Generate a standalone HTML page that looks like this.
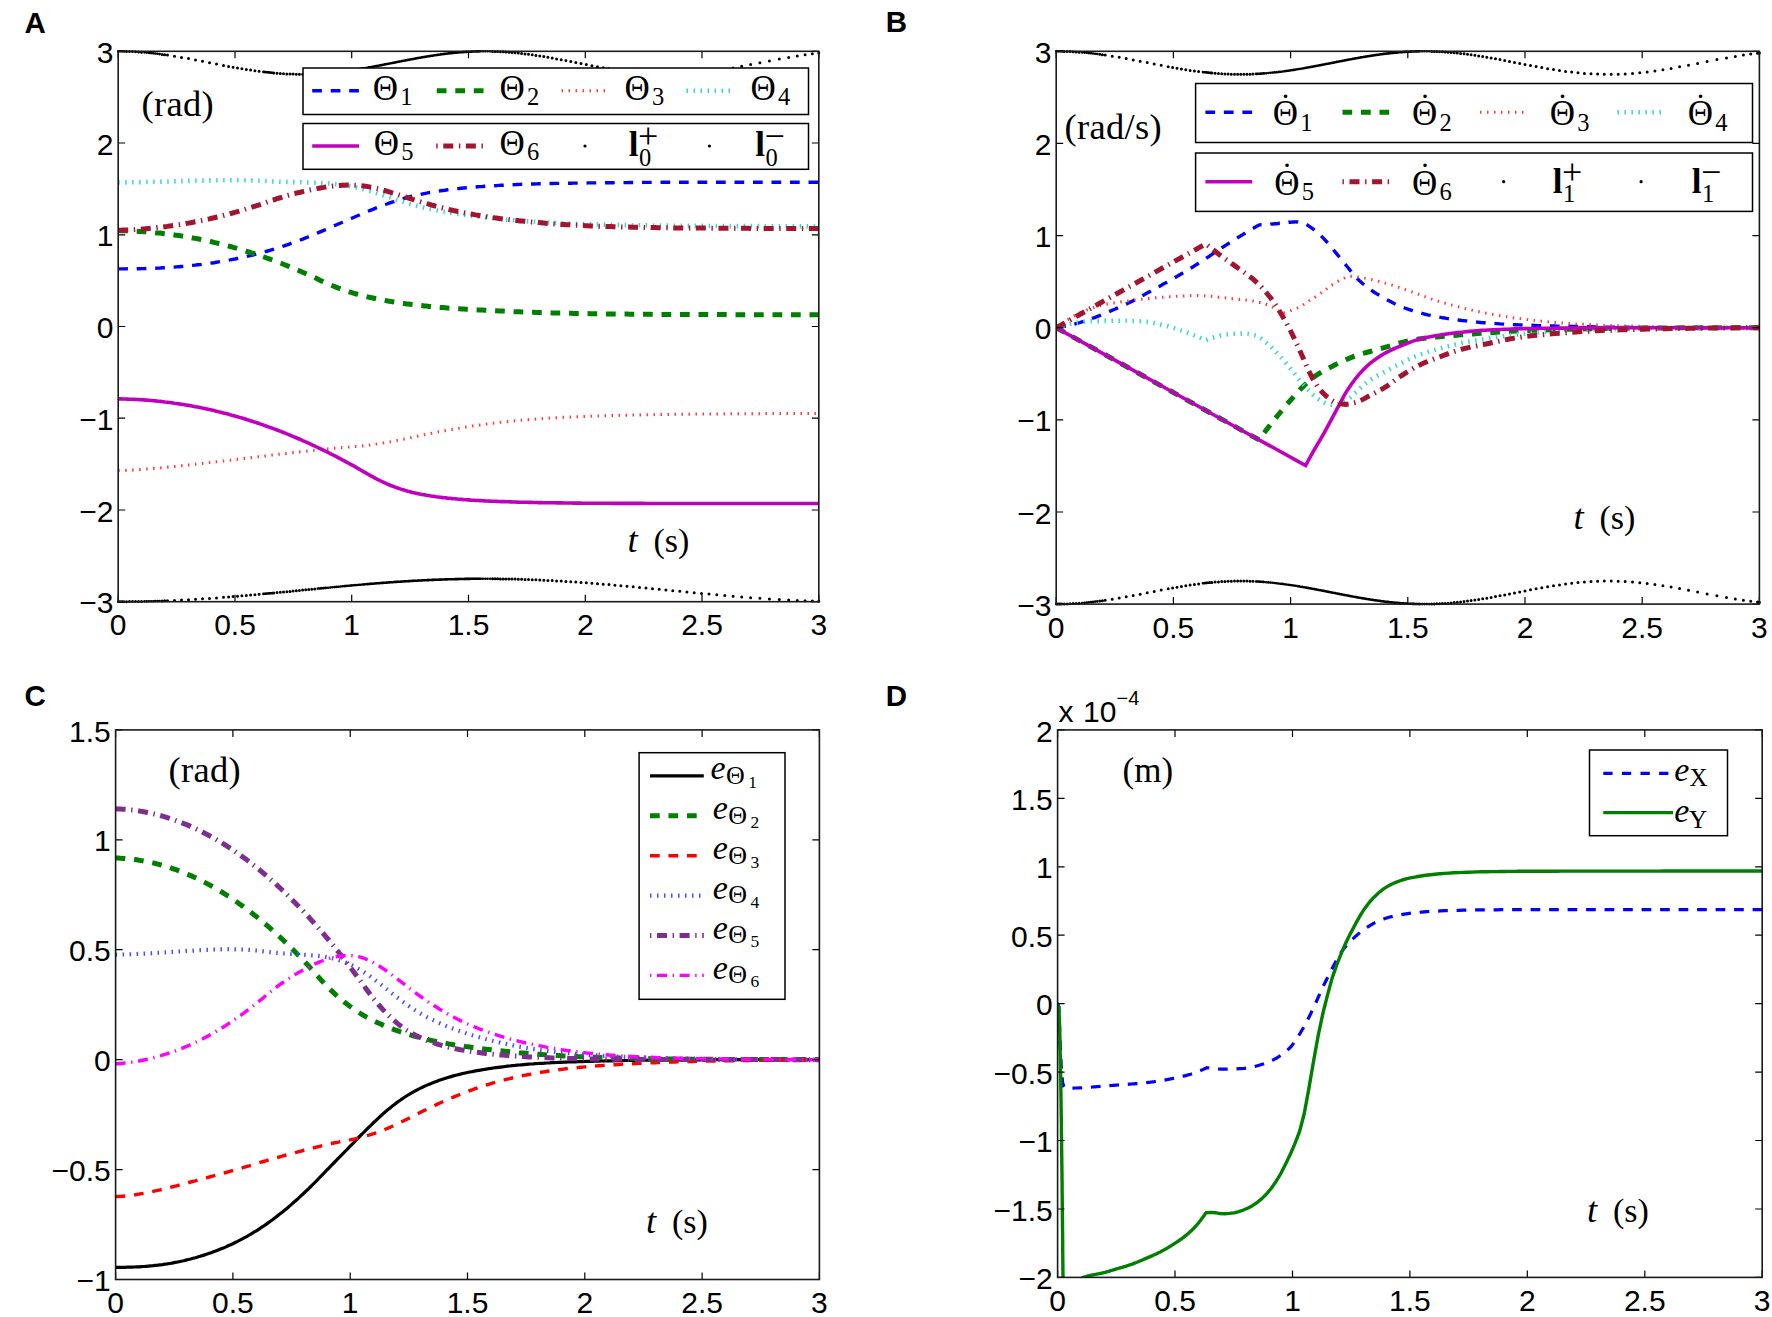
<!DOCTYPE html>
<html><head><meta charset="utf-8"><title>Figure</title>
<style>html,body{margin:0;padding:0;background:#fff}svg{display:block}</style></head>
<body>
<svg width="1772" height="1317" viewBox="0 0 1772 1317">
<rect width="1772" height="1317" fill="#fff"/>
<defs>
<clipPath id="clipA"><rect x="118.2" y="51.3" width="700.6" height="550.4"/></clipPath>
<clipPath id="clipB"><rect x="1056.2" y="51.3" width="703.2" height="552.8"/></clipPath>
<clipPath id="clipC"><rect x="115.6" y="729.9" width="703.8" height="549.6"/></clipPath>
<clipPath id="clipD"><rect x="1057.6" y="729.9" width="704.6" height="547.5"/></clipPath>
</defs>
<g clip-path="url(#clipA)">
<path d="M118.2,268.9 L120.5,268.9 L122.9,268.9 L125.2,268.9 L127.5,268.8 L129.9,268.8 L132.2,268.8 L134.5,268.8 L136.9,268.7 L139.2,268.7 L141.6,268.6 L143.9,268.6 L146.2,268.5 L148.6,268.4 L150.9,268.4 L153.2,268.3 L155.6,268.2 L157.9,268.1 L160.2,268.0 L162.6,267.8 L164.9,267.7 L167.2,267.6 L169.6,267.4 L171.9,267.3 L174.2,267.1 L176.6,266.9 L178.9,266.7 L181.3,266.5 L183.6,266.3 L185.9,266.1 L188.3,265.9 L190.6,265.6 L192.9,265.4 L195.3,265.1 L197.6,264.8 L199.9,264.6 L202.3,264.3 L204.6,264.0 L206.9,263.7 L209.3,263.3 L211.6,263.0 L213.9,262.7 L216.3,262.3 L218.6,261.9 L221.0,261.5 L223.3,261.1 L225.6,260.7 L228.0,260.3 L230.3,259.9 L232.6,259.4 L235.0,259.0 L237.3,258.5 L239.6,258.0 L242.0,257.5 L244.3,257.0 L246.6,256.5 L249.0,255.9 L251.3,255.4 L253.6,254.8 L256.0,254.2 L258.3,253.6 L260.7,253.0 L263.0,252.3 L265.3,251.7 L267.7,251.0 L270.0,250.3 L272.3,249.6 L274.7,248.9 L277.0,248.2 L279.3,247.4 L281.7,246.6 L284.0,245.9 L286.3,245.1 L288.7,244.3 L291.0,243.4 L293.3,242.6 L295.7,241.7 L298.0,240.9 L300.4,240.0 L302.7,239.1 L305.0,238.2 L307.4,237.2 L309.7,236.3 L312.0,235.3 L314.4,234.4 L316.7,233.4 L319.0,232.4 L321.4,231.4 L323.7,230.4 L326.0,229.4 L328.4,228.3 L330.7,227.3 L333.1,226.3 L335.4,225.3 L337.7,224.3 L340.1,223.3 L342.4,222.3 L344.7,221.3 L347.1,220.3 L349.4,219.3 L351.7,218.3 L354.1,217.3 L356.4,216.3 L358.7,215.3 L361.1,214.3 L363.4,213.3 L365.7,212.3 L368.1,211.3 L370.4,210.3 L372.8,209.4 L375.1,208.4 L377.4,207.5 L379.8,206.6 L382.1,205.7 L384.4,204.8 L386.8,204.0 L389.1,203.1 L391.4,202.3 L393.8,201.6 L396.1,200.8 L398.4,200.1 L400.8,199.3 L403.1,198.7 L405.4,198.0 L407.8,197.4 L410.1,196.7 L412.5,196.2 L414.8,195.6 L417.1,195.1 L419.5,194.6 L421.8,194.1 L424.1,193.6 L426.5,193.2 L428.8,192.7 L431.1,192.3 L433.5,191.9 L435.8,191.5 L438.1,191.2 L440.5,190.8 L442.8,190.5 L445.1,190.2 L447.5,189.8 L449.8,189.5 L452.2,189.3 L454.5,189.0 L456.8,188.7 L459.2,188.5 L461.5,188.2 L463.8,188.0 L466.2,187.8 L468.5,187.6 L470.8,187.4 L473.2,187.2 L475.5,187.0 L477.8,186.8 L480.2,186.6 L482.5,186.5 L484.8,186.3 L487.2,186.1 L489.5,186.0 L491.9,185.8 L494.2,185.7 L496.5,185.6 L498.9,185.4 L501.2,185.3 L503.5,185.2 L505.9,185.1 L508.2,184.9 L510.5,184.8 L512.9,184.7 L515.2,184.6 L517.5,184.5 L519.9,184.4 L522.2,184.3 L524.5,184.3 L526.9,184.2 L529.2,184.1 L531.6,184.0 L533.9,184.0 L536.2,183.9 L538.6,183.8 L540.9,183.8 L543.2,183.7 L545.6,183.6 L547.9,183.6 L550.2,183.5 L552.6,183.5 L554.9,183.4 L557.2,183.4 L559.6,183.4 L561.9,183.3 L564.2,183.3 L566.6,183.2 L568.9,183.2 L571.3,183.2 L573.6,183.1 L575.9,183.1 L578.3,183.1 L580.6,183.0 L582.9,183.0 L585.3,183.0 L587.6,182.9 L589.9,182.9 L592.3,182.9 L594.6,182.9 L596.9,182.8 L599.3,182.8 L601.6,182.8 L603.9,182.8 L606.3,182.7 L608.6,182.7 L611.0,182.7 L613.3,182.7 L615.6,182.6 L618.0,182.6 L620.3,182.6 L622.6,182.6 L625.0,182.6 L627.3,182.6 L629.6,182.5 L632.0,182.5 L634.3,182.5 L636.6,182.5 L639.0,182.5 L641.3,182.5 L643.6,182.4 L646.0,182.4 L648.3,182.4 L650.7,182.4 L653.0,182.4 L655.3,182.4 L657.7,182.4 L660.0,182.4 L662.3,182.3 L664.7,182.3 L667.0,182.3 L669.3,182.3 L671.7,182.3 L674.0,182.3 L676.3,182.3 L678.7,182.3 L681.0,182.3 L683.4,182.3 L685.7,182.3 L688.0,182.3 L690.4,182.3 L692.7,182.3 L695.0,182.3 L697.4,182.3 L699.7,182.3 L702.0,182.3 L704.4,182.2 L706.7,182.2 L709.0,182.2 L711.4,182.2 L713.7,182.2 L716.0,182.2 L718.4,182.2 L720.7,182.2 L723.1,182.2 L725.4,182.2 L727.7,182.2 L730.1,182.2 L732.4,182.2 L734.7,182.2 L737.1,182.2 L739.4,182.2 L741.7,182.2 L744.1,182.2 L746.4,182.2 L748.7,182.2 L751.1,182.2 L753.4,182.2 L755.7,182.2 L758.1,182.2 L760.4,182.2 L762.8,182.2 L765.1,182.2 L767.4,182.2 L769.8,182.2 L772.1,182.2 L774.4,182.2 L776.8,182.2 L779.1,182.2 L781.4,182.2 L783.8,182.2 L786.1,182.2 L788.4,182.2 L790.8,182.2 L793.1,182.2 L795.4,182.2 L797.8,182.2 L800.1,182.2 L802.5,182.2 L804.8,182.2 L807.1,182.2 L809.5,182.2 L811.8,182.2 L814.1,182.2 L816.5,182.2 L818.8,182.2" fill="none" stroke="#0000ff" stroke-width="3.4" stroke-dasharray="9.7 8.8"/>
<path d="M118.2,230.6 L120.5,230.7 L122.9,230.7 L125.2,230.8 L127.5,230.8 L129.9,230.9 L132.2,231.0 L134.5,231.1 L136.9,231.2 L139.2,231.4 L141.6,231.5 L143.9,231.7 L146.2,231.8 L148.6,232.0 L150.9,232.2 L153.2,232.4 L155.6,232.7 L157.9,232.9 L160.2,233.1 L162.6,233.4 L164.9,233.7 L167.2,234.0 L169.6,234.3 L171.9,234.6 L174.2,234.9 L176.6,235.2 L178.9,235.6 L181.3,235.9 L183.6,236.3 L185.9,236.7 L188.3,237.1 L190.6,237.5 L192.9,238.0 L195.3,238.4 L197.6,238.8 L199.9,239.3 L202.3,239.8 L204.6,240.3 L206.9,240.8 L209.3,241.3 L211.6,241.8 L213.9,242.4 L216.3,242.9 L218.6,243.5 L221.0,244.1 L223.3,244.7 L225.6,245.3 L228.0,245.9 L230.3,246.5 L232.6,247.2 L235.0,247.8 L237.3,248.5 L239.6,249.2 L242.0,249.9 L244.3,250.6 L246.6,251.3 L249.0,252.0 L251.3,252.8 L253.6,253.5 L256.0,254.3 L258.3,255.1 L260.7,255.9 L263.0,256.7 L265.3,257.5 L267.7,258.3 L270.0,259.2 L272.3,260.0 L274.7,260.9 L277.0,261.8 L279.3,262.6 L281.7,263.5 L284.0,264.5 L286.3,265.4 L288.7,266.3 L291.0,267.3 L293.3,268.3 L295.7,269.2 L298.0,270.2 L300.4,271.2 L302.7,272.3 L305.0,273.3 L307.4,274.3 L309.7,275.4 L312.0,276.5 L314.4,277.5 L316.7,278.6 L319.0,279.7 L321.4,280.9 L323.7,281.9 L326.0,283.0 L328.4,284.0 L330.7,285.0 L333.1,286.0 L335.4,286.9 L337.7,287.8 L340.1,288.7 L342.4,289.5 L344.7,290.3 L347.1,291.1 L349.4,291.9 L351.7,292.6 L354.1,293.3 L356.4,294.0 L358.7,294.6 L361.1,295.3 L363.4,295.9 L365.7,296.4 L368.1,297.0 L370.4,297.5 L372.8,298.0 L375.1,298.5 L377.4,299.0 L379.8,299.5 L382.1,299.9 L384.4,300.3 L386.8,300.8 L389.1,301.2 L391.4,301.6 L393.8,301.9 L396.1,302.3 L398.4,302.7 L400.8,303.0 L403.1,303.3 L405.4,303.7 L407.8,304.0 L410.1,304.3 L412.5,304.6 L414.8,304.8 L417.1,305.1 L419.5,305.4 L421.8,305.6 L424.1,305.9 L426.5,306.1 L428.8,306.4 L431.1,306.6 L433.5,306.8 L435.8,307.0 L438.1,307.2 L440.5,307.4 L442.8,307.6 L445.1,307.8 L447.5,308.0 L449.8,308.2 L452.2,308.3 L454.5,308.5 L456.8,308.7 L459.2,308.8 L461.5,309.0 L463.8,309.1 L466.2,309.3 L468.5,309.4 L470.8,309.5 L473.2,309.6 L475.5,309.8 L477.8,309.9 L480.2,310.0 L482.5,310.1 L484.8,310.3 L487.2,310.4 L489.5,310.5 L491.9,310.6 L494.2,310.7 L496.5,310.8 L498.9,310.9 L501.2,311.0 L503.5,311.1 L505.9,311.3 L508.2,311.4 L510.5,311.5 L512.9,311.6 L515.2,311.7 L517.5,311.7 L519.9,311.8 L522.2,311.9 L524.5,312.0 L526.9,312.1 L529.2,312.2 L531.6,312.3 L533.9,312.3 L536.2,312.4 L538.6,312.5 L540.9,312.6 L543.2,312.6 L545.6,312.7 L547.9,312.8 L550.2,312.8 L552.6,312.9 L554.9,312.9 L557.2,313.0 L559.6,313.1 L561.9,313.1 L564.2,313.2 L566.6,313.2 L568.9,313.3 L571.3,313.3 L573.6,313.4 L575.9,313.4 L578.3,313.5 L580.6,313.5 L582.9,313.5 L585.3,313.6 L587.6,313.6 L589.9,313.7 L592.3,313.7 L594.6,313.7 L596.9,313.8 L599.3,313.8 L601.6,313.8 L603.9,313.9 L606.3,313.9 L608.6,313.9 L611.0,314.0 L613.3,314.0 L615.6,314.0 L618.0,314.0 L620.3,314.1 L622.6,314.1 L625.0,314.1 L627.3,314.1 L629.6,314.2 L632.0,314.2 L634.3,314.2 L636.6,314.2 L639.0,314.3 L641.3,314.3 L643.6,314.3 L646.0,314.3 L648.3,314.3 L650.7,314.3 L653.0,314.4 L655.3,314.4 L657.7,314.4 L660.0,314.4 L662.3,314.4 L664.7,314.4 L667.0,314.4 L669.3,314.5 L671.7,314.5 L674.0,314.5 L676.3,314.5 L678.7,314.5 L681.0,314.5 L683.4,314.5 L685.7,314.5 L688.0,314.5 L690.4,314.6 L692.7,314.6 L695.0,314.6 L697.4,314.6 L699.7,314.6 L702.0,314.6 L704.4,314.6 L706.7,314.6 L709.0,314.6 L711.4,314.6 L713.7,314.6 L716.0,314.6 L718.4,314.6 L720.7,314.6 L723.1,314.6 L725.4,314.6 L727.7,314.7 L730.1,314.7 L732.4,314.7 L734.7,314.7 L737.1,314.7 L739.4,314.7 L741.7,314.7 L744.1,314.7 L746.4,314.7 L748.7,314.7 L751.1,314.7 L753.4,314.7 L755.7,314.7 L758.1,314.7 L760.4,314.7 L762.8,314.7 L765.1,314.7 L767.4,314.7 L769.8,314.7 L772.1,314.7 L774.4,314.7 L776.8,314.7 L779.1,314.7 L781.4,314.7 L783.8,314.7 L786.1,314.7 L788.4,314.7 L790.8,314.7 L793.1,314.7 L795.4,314.7 L797.8,314.7 L800.1,314.7 L802.5,314.7 L804.8,314.7 L807.1,314.7 L809.5,314.7 L811.8,314.7 L814.1,314.8 L816.5,314.8 L818.8,314.8" fill="none" stroke="#007f00" stroke-width="5" stroke-dasharray="9.7 8.8"/>
<path d="M118.2,470.5 L120.5,470.5 L122.9,470.4 L125.2,470.4 L127.5,470.3 L129.9,470.2 L132.2,470.1 L134.5,469.9 L136.9,469.8 L139.2,469.6 L141.6,469.5 L143.9,469.3 L146.2,469.1 L148.6,469.0 L150.9,468.8 L153.2,468.6 L155.6,468.4 L157.9,468.1 L160.2,467.9 L162.6,467.7 L164.9,467.5 L167.2,467.2 L169.6,467.0 L171.9,466.8 L174.2,466.5 L176.6,466.3 L178.9,466.0 L181.3,465.7 L183.6,465.5 L185.9,465.2 L188.3,465.0 L190.6,464.7 L192.9,464.4 L195.3,464.2 L197.6,463.9 L199.9,463.6 L202.3,463.4 L204.6,463.1 L206.9,462.8 L209.3,462.6 L211.6,462.3 L213.9,462.0 L216.3,461.8 L218.6,461.5 L221.0,461.2 L223.3,461.0 L225.6,460.7 L228.0,460.4 L230.3,460.2 L232.6,459.9 L235.0,459.6 L237.3,459.3 L239.6,459.1 L242.0,458.8 L244.3,458.5 L246.6,458.2 L249.0,457.9 L251.3,457.6 L253.6,457.4 L256.0,457.1 L258.3,456.8 L260.7,456.5 L263.0,456.2 L265.3,455.9 L267.7,455.6 L270.0,455.3 L272.3,455.0 L274.7,454.7 L277.0,454.5 L279.3,454.2 L281.7,453.9 L284.0,453.6 L286.3,453.4 L288.7,453.1 L291.0,452.8 L293.3,452.6 L295.7,452.3 L298.0,452.1 L300.4,451.8 L302.7,451.5 L305.0,451.3 L307.4,451.0 L309.7,450.8 L312.0,450.5 L314.4,450.3 L316.7,450.0 L319.0,449.8 L321.4,449.5 L323.7,449.3 L326.0,449.0 L328.4,448.8 L330.7,448.6 L333.1,448.4 L335.4,448.1 L337.7,447.9 L340.1,447.8 L342.4,447.6 L344.7,447.4 L347.1,447.2 L349.4,447.0 L351.7,446.9 L354.1,446.6 L356.4,446.4 L358.7,446.2 L361.1,446.0 L363.4,445.7 L365.7,445.4 L368.1,445.2 L370.4,444.9 L372.8,444.6 L375.1,444.2 L377.4,443.9 L379.8,443.5 L382.1,443.2 L384.4,442.8 L386.8,442.4 L389.1,442.0 L391.4,441.6 L393.8,441.1 L396.1,440.7 L398.4,440.2 L400.8,439.8 L403.1,439.3 L405.4,438.8 L407.8,438.3 L410.1,437.8 L412.5,437.3 L414.8,436.8 L417.1,436.3 L419.5,435.8 L421.8,435.3 L424.1,434.8 L426.5,434.4 L428.8,433.9 L431.1,433.4 L433.5,432.9 L435.8,432.5 L438.1,432.0 L440.5,431.6 L442.8,431.1 L445.1,430.7 L447.5,430.3 L449.8,429.8 L452.2,429.4 L454.5,429.0 L456.8,428.6 L459.2,428.2 L461.5,427.8 L463.8,427.4 L466.2,427.0 L468.5,426.7 L470.8,426.3 L473.2,425.9 L475.5,425.6 L477.8,425.2 L480.2,424.9 L482.5,424.6 L484.8,424.3 L487.2,423.9 L489.5,423.6 L491.9,423.4 L494.2,423.1 L496.5,422.8 L498.9,422.5 L501.2,422.2 L503.5,422.0 L505.9,421.7 L508.2,421.5 L510.5,421.3 L512.9,421.0 L515.2,420.8 L517.5,420.6 L519.9,420.4 L522.2,420.2 L524.5,420.0 L526.9,419.8 L529.2,419.6 L531.6,419.4 L533.9,419.2 L536.2,419.0 L538.6,418.9 L540.9,418.7 L543.2,418.5 L545.6,418.4 L547.9,418.2 L550.2,418.1 L552.6,418.0 L554.9,417.8 L557.2,417.7 L559.6,417.6 L561.9,417.4 L564.2,417.3 L566.6,417.2 L568.9,417.1 L571.3,417.0 L573.6,416.9 L575.9,416.8 L578.3,416.7 L580.6,416.6 L582.9,416.5 L585.3,416.4 L587.6,416.3 L589.9,416.2 L592.3,416.1 L594.6,416.1 L596.9,416.0 L599.3,415.9 L601.6,415.8 L603.9,415.8 L606.3,415.7 L608.6,415.6 L611.0,415.6 L613.3,415.5 L615.6,415.5 L618.0,415.4 L620.3,415.3 L622.6,415.3 L625.0,415.2 L627.3,415.2 L629.6,415.1 L632.0,415.1 L634.3,415.0 L636.6,415.0 L639.0,414.9 L641.3,414.9 L643.6,414.8 L646.0,414.8 L648.3,414.7 L650.7,414.7 L653.0,414.7 L655.3,414.6 L657.7,414.6 L660.0,414.5 L662.3,414.5 L664.7,414.5 L667.0,414.4 L669.3,414.4 L671.7,414.4 L674.0,414.3 L676.3,414.3 L678.7,414.3 L681.0,414.3 L683.4,414.2 L685.7,414.2 L688.0,414.2 L690.4,414.2 L692.7,414.1 L695.0,414.1 L697.4,414.1 L699.7,414.1 L702.0,414.0 L704.4,414.0 L706.7,414.0 L709.0,414.0 L711.4,414.0 L713.7,413.9 L716.0,413.9 L718.4,413.9 L720.7,413.9 L723.1,413.9 L725.4,413.8 L727.7,413.8 L730.1,413.8 L732.4,413.8 L734.7,413.8 L737.1,413.8 L739.4,413.8 L741.7,413.7 L744.1,413.7 L746.4,413.7 L748.7,413.7 L751.1,413.7 L753.4,413.7 L755.7,413.7 L758.1,413.7 L760.4,413.7 L762.8,413.7 L765.1,413.6 L767.4,413.6 L769.8,413.6 L772.1,413.6 L774.4,413.6 L776.8,413.6 L779.1,413.6 L781.4,413.6 L783.8,413.6 L786.1,413.6 L788.4,413.6 L790.8,413.6 L793.1,413.6 L795.4,413.5 L797.8,413.5 L800.1,413.5 L802.5,413.5 L804.8,413.5 L807.1,413.5 L809.5,413.5 L811.8,413.5 L814.1,413.5 L816.5,413.5 L818.8,413.5" fill="none" stroke="#ff3b3b" stroke-width="3" stroke-dasharray="1.5 5.5"/>
<path d="M118.2,182.4 L120.5,182.4 L122.9,182.4 L125.2,182.4 L127.5,182.3 L129.9,182.3 L132.2,182.3 L134.5,182.2 L136.9,182.2 L139.2,182.2 L141.6,182.1 L143.9,182.1 L146.2,182.0 L148.6,182.0 L150.9,181.9 L153.2,181.8 L155.6,181.8 L157.9,181.7 L160.2,181.7 L162.6,181.6 L164.9,181.5 L167.2,181.5 L169.6,181.4 L171.9,181.3 L174.2,181.3 L176.6,181.2 L178.9,181.2 L181.3,181.1 L183.6,181.0 L185.9,181.0 L188.3,180.9 L190.6,180.8 L192.9,180.8 L195.3,180.7 L197.6,180.7 L199.9,180.6 L202.3,180.6 L204.6,180.5 L206.9,180.4 L209.3,180.4 L211.6,180.4 L213.9,180.3 L216.3,180.3 L218.6,180.2 L221.0,180.2 L223.3,180.2 L225.6,180.2 L228.0,180.2 L230.3,180.2 L232.6,180.2 L235.0,180.2 L237.3,180.2 L239.6,180.2 L242.0,180.2 L244.3,180.3 L246.6,180.3 L249.0,180.4 L251.3,180.4 L253.6,180.5 L256.0,180.6 L258.3,180.7 L260.7,180.8 L263.0,180.9 L265.3,181.0 L267.7,181.1 L270.0,181.3 L272.3,181.4 L274.7,181.5 L277.0,181.6 L279.3,181.7 L281.7,181.8 L284.0,181.8 L286.3,181.9 L288.7,182.0 L291.0,182.1 L293.3,182.1 L295.7,182.2 L298.0,182.3 L300.4,182.3 L302.7,182.4 L305.0,182.5 L307.4,182.5 L309.7,182.6 L312.0,182.7 L314.4,182.7 L316.7,182.8 L319.0,182.9 L321.4,183.0 L323.7,183.1 L326.0,183.3 L328.4,183.4 L330.7,183.6 L333.1,183.8 L335.4,184.1 L337.7,184.3 L340.1,184.6 L342.4,184.9 L344.7,185.3 L347.1,185.7 L349.4,186.1 L351.7,186.5 L354.1,187.0 L356.4,187.5 L358.7,188.0 L361.1,188.6 L363.4,189.2 L365.7,189.8 L368.1,190.5 L370.4,191.1 L372.8,191.8 L375.1,192.5 L377.4,193.3 L379.8,194.0 L382.1,194.8 L384.4,195.6 L386.8,196.3 L389.1,197.1 L391.4,197.9 L393.8,198.7 L396.1,199.5 L398.4,200.2 L400.8,201.0 L403.1,201.7 L405.4,202.5 L407.8,203.2 L410.1,203.9 L412.5,204.6 L414.8,205.2 L417.1,205.8 L419.5,206.4 L421.8,207.0 L424.1,207.6 L426.5,208.1 L428.8,208.6 L431.1,209.1 L433.5,209.6 L435.8,210.0 L438.1,210.5 L440.5,210.9 L442.8,211.4 L445.1,211.8 L447.5,212.2 L449.8,212.6 L452.2,213.0 L454.5,213.3 L456.8,213.7 L459.2,214.0 L461.5,214.4 L463.8,214.7 L466.2,215.1 L468.5,215.4 L470.8,215.7 L473.2,216.0 L475.5,216.3 L477.8,216.6 L480.2,216.9 L482.5,217.2 L484.8,217.4 L487.2,217.7 L489.5,217.9 L491.9,218.2 L494.2,218.4 L496.5,218.7 L498.9,218.9 L501.2,219.1 L503.5,219.4 L505.9,219.6 L508.2,219.8 L510.5,220.0 L512.9,220.2 L515.2,220.4 L517.5,220.6 L519.9,220.8 L522.2,220.9 L524.5,221.1 L526.9,221.3 L529.2,221.4 L531.6,221.6 L533.9,221.7 L536.2,221.9 L538.6,222.0 L540.9,222.2 L543.2,222.3 L545.6,222.4 L547.9,222.6 L550.2,222.7 L552.6,222.8 L554.9,222.9 L557.2,223.0 L559.6,223.1 L561.9,223.2 L564.2,223.3 L566.6,223.4 L568.9,223.5 L571.3,223.6 L573.6,223.7 L575.9,223.8 L578.3,223.9 L580.6,224.0 L582.9,224.0 L585.3,224.1 L587.6,224.2 L589.9,224.2 L592.3,224.3 L594.6,224.4 L596.9,224.4 L599.3,224.5 L601.6,224.6 L603.9,224.6 L606.3,224.7 L608.6,224.7 L611.0,224.8 L613.3,224.8 L615.6,224.9 L618.0,224.9 L620.3,225.0 L622.6,225.0 L625.0,225.1 L627.3,225.1 L629.6,225.1 L632.0,225.2 L634.3,225.2 L636.6,225.3 L639.0,225.3 L641.3,225.3 L643.6,225.4 L646.0,225.4 L648.3,225.4 L650.7,225.5 L653.0,225.5 L655.3,225.5 L657.7,225.5 L660.0,225.6 L662.3,225.6 L664.7,225.6 L667.0,225.6 L669.3,225.7 L671.7,225.7 L674.0,225.7 L676.3,225.7 L678.7,225.8 L681.0,225.8 L683.4,225.8 L685.7,225.8 L688.0,225.8 L690.4,225.8 L692.7,225.9 L695.0,225.9 L697.4,225.9 L699.7,225.9 L702.0,225.9 L704.4,225.9 L706.7,226.0 L709.0,226.0 L711.4,226.0 L713.7,226.0 L716.0,226.0 L718.4,226.0 L720.7,226.0 L723.1,226.0 L725.4,226.0 L727.7,226.1 L730.1,226.1 L732.4,226.1 L734.7,226.1 L737.1,226.1 L739.4,226.1 L741.7,226.1 L744.1,226.1 L746.4,226.1 L748.7,226.1 L751.1,226.1 L753.4,226.1 L755.7,226.1 L758.1,226.1 L760.4,226.2 L762.8,226.2 L765.1,226.2 L767.4,226.2 L769.8,226.2 L772.1,226.2 L774.4,226.2 L776.8,226.2 L779.1,226.2 L781.4,226.2 L783.8,226.2 L786.1,226.2 L788.4,226.2 L790.8,226.2 L793.1,226.2 L795.4,226.2 L797.8,226.2 L800.1,226.2 L802.5,226.2 L804.8,226.2 L807.1,226.2 L809.5,226.2 L811.8,226.2 L814.1,226.2 L816.5,226.2 L818.8,226.2" fill="none" stroke="#3ad6c8" stroke-width="4.6" stroke-dasharray="1.5 5.5"/>
<path d="M118.2,398.9 L120.5,398.9 L122.9,399.0 L125.2,399.0 L127.5,399.1 L129.9,399.2 L132.2,399.3 L134.5,399.4 L136.9,399.5 L139.2,399.6 L141.6,399.8 L143.9,399.9 L146.2,400.1 L148.6,400.3 L150.9,400.5 L153.2,400.7 L155.6,400.9 L157.9,401.2 L160.2,401.4 L162.6,401.7 L164.9,402.0 L167.2,402.2 L169.6,402.5 L171.9,402.8 L174.2,403.2 L176.6,403.5 L178.9,403.9 L181.3,404.2 L183.6,404.6 L185.9,405.0 L188.3,405.4 L190.6,405.8 L192.9,406.2 L195.3,406.7 L197.6,407.1 L199.9,407.6 L202.3,408.1 L204.6,408.5 L206.9,409.0 L209.3,409.6 L211.6,410.1 L213.9,410.6 L216.3,411.2 L218.6,411.8 L221.0,412.3 L223.3,412.9 L225.6,413.5 L228.0,414.1 L230.3,414.8 L232.6,415.4 L235.0,416.1 L237.3,416.7 L239.6,417.4 L242.0,418.1 L244.3,418.8 L246.6,419.5 L249.0,420.3 L251.3,421.0 L253.6,421.8 L256.0,422.5 L258.3,423.3 L260.7,424.1 L263.0,424.9 L265.3,425.7 L267.7,426.6 L270.0,427.4 L272.3,428.3 L274.7,429.1 L277.0,430.0 L279.3,430.9 L281.7,431.8 L284.0,432.7 L286.3,433.7 L288.7,434.6 L291.0,435.6 L293.3,436.6 L295.7,437.5 L298.0,438.5 L300.4,439.5 L302.7,440.6 L305.0,441.6 L307.4,442.7 L309.7,443.7 L312.0,444.8 L314.4,445.9 L316.7,447.0 L319.0,448.1 L321.4,449.2 L323.7,450.3 L326.0,451.5 L328.4,452.6 L330.7,453.8 L333.1,455.0 L335.4,456.2 L337.7,457.4 L340.1,458.6 L342.4,459.9 L344.7,461.1 L347.1,462.4 L349.4,463.7 L351.7,464.9 L354.1,466.2 L356.4,467.5 L358.7,468.9 L361.1,470.2 L363.4,471.6 L365.7,472.9 L368.1,474.3 L370.4,475.6 L372.8,476.9 L375.1,478.1 L377.4,479.3 L379.8,480.5 L382.1,481.6 L384.4,482.7 L386.8,483.8 L389.1,484.8 L391.4,485.7 L393.8,486.6 L396.1,487.5 L398.4,488.3 L400.8,489.1 L403.1,489.8 L405.4,490.5 L407.8,491.2 L410.1,491.8 L412.5,492.4 L414.8,492.9 L417.1,493.4 L419.5,493.9 L421.8,494.4 L424.1,494.8 L426.5,495.2 L428.8,495.6 L431.1,496.0 L433.5,496.3 L435.8,496.7 L438.1,497.0 L440.5,497.3 L442.8,497.6 L445.1,497.8 L447.5,498.1 L449.8,498.3 L452.2,498.6 L454.5,498.8 L456.8,499.0 L459.2,499.2 L461.5,499.4 L463.8,499.6 L466.2,499.7 L468.5,499.9 L470.8,500.1 L473.2,500.2 L475.5,500.4 L477.8,500.5 L480.2,500.6 L482.5,500.7 L484.8,500.9 L487.2,501.0 L489.5,501.1 L491.9,501.2 L494.2,501.3 L496.5,501.4 L498.9,501.5 L501.2,501.6 L503.5,501.6 L505.9,501.7 L508.2,501.8 L510.5,501.9 L512.9,502.0 L515.2,502.0 L517.5,502.1 L519.9,502.2 L522.2,502.2 L524.5,502.3 L526.9,502.3 L529.2,502.4 L531.6,502.4 L533.9,502.5 L536.2,502.5 L538.6,502.6 L540.9,502.6 L543.2,502.7 L545.6,502.7 L547.9,502.7 L550.2,502.8 L552.6,502.8 L554.9,502.8 L557.2,502.9 L559.6,502.9 L561.9,502.9 L564.2,503.0 L566.6,503.0 L568.9,503.0 L571.3,503.0 L573.6,503.1 L575.9,503.1 L578.3,503.1 L580.6,503.1 L582.9,503.2 L585.3,503.2 L587.6,503.2 L589.9,503.2 L592.3,503.2 L594.6,503.3 L596.9,503.3 L599.3,503.3 L601.6,503.3 L603.9,503.3 L606.3,503.3 L608.6,503.3 L611.0,503.3 L613.3,503.4 L615.6,503.4 L618.0,503.4 L620.3,503.4 L622.6,503.4 L625.0,503.4 L627.3,503.4 L629.6,503.4 L632.0,503.4 L634.3,503.4 L636.6,503.4 L639.0,503.4 L641.3,503.4 L643.6,503.4 L646.0,503.5 L648.3,503.5 L650.7,503.5 L653.0,503.5 L655.3,503.5 L657.7,503.5 L660.0,503.5 L662.3,503.5 L664.7,503.5 L667.0,503.5 L669.3,503.5 L671.7,503.5 L674.0,503.5 L676.3,503.5 L678.7,503.5 L681.0,503.5 L683.4,503.5 L685.7,503.5 L688.0,503.5 L690.4,503.5 L692.7,503.5 L695.0,503.5 L697.4,503.5 L699.7,503.5 L702.0,503.5 L704.4,503.5 L706.7,503.5 L709.0,503.5 L711.4,503.5 L713.7,503.5 L716.0,503.5 L718.4,503.5 L720.7,503.5 L723.1,503.5 L725.4,503.5 L727.7,503.5 L730.1,503.5 L732.4,503.5 L734.7,503.5 L737.1,503.5 L739.4,503.5 L741.7,503.5 L744.1,503.5 L746.4,503.5 L748.7,503.5 L751.1,503.5 L753.4,503.5 L755.7,503.5 L758.1,503.5 L760.4,503.5 L762.8,503.5 L765.1,503.5 L767.4,503.5 L769.8,503.5 L772.1,503.5 L774.4,503.5 L776.8,503.5 L779.1,503.5 L781.4,503.5 L783.8,503.5 L786.1,503.5 L788.4,503.5 L790.8,503.5 L793.1,503.5 L795.4,503.5 L797.8,503.5 L800.1,503.5 L802.5,503.5 L804.8,503.5 L807.1,503.5 L809.5,503.5 L811.8,503.5 L814.1,503.5 L816.5,503.5 L818.8,503.5" fill="none" stroke="#bf00bf" stroke-width="3.6"/>
<path d="M118.2,230.3 L120.5,230.2 L122.9,230.1 L125.2,230.0 L127.5,229.9 L129.9,229.8 L132.2,229.7 L134.5,229.6 L136.9,229.4 L139.2,229.2 L141.6,229.1 L143.9,228.9 L146.2,228.7 L148.6,228.5 L150.9,228.3 L153.2,228.0 L155.6,227.8 L157.9,227.5 L160.2,227.2 L162.6,227.0 L164.9,226.7 L167.2,226.4 L169.6,226.0 L171.9,225.7 L174.2,225.4 L176.6,225.0 L178.9,224.7 L181.3,224.3 L183.6,223.9 L185.9,223.5 L188.3,223.1 L190.6,222.7 L192.9,222.3 L195.3,221.8 L197.6,221.4 L199.9,220.9 L202.3,220.4 L204.6,219.9 L206.9,219.4 L209.3,218.9 L211.6,218.3 L213.9,217.8 L216.3,217.2 L218.6,216.7 L221.0,216.1 L223.3,215.5 L225.6,214.9 L228.0,214.3 L230.3,213.6 L232.6,213.0 L235.0,212.3 L237.3,211.7 L239.6,211.0 L242.0,210.3 L244.3,209.6 L246.6,208.8 L249.0,208.1 L251.3,207.4 L253.6,206.6 L256.0,205.8 L258.3,205.1 L260.7,204.3 L263.0,203.5 L265.3,202.7 L267.7,201.8 L270.0,201.0 L272.3,200.2 L274.7,199.5 L277.0,198.7 L279.3,198.0 L281.7,197.3 L284.0,196.6 L286.3,195.9 L288.7,195.2 L291.0,194.6 L293.3,193.9 L295.7,193.3 L298.0,192.7 L300.4,192.2 L302.7,191.6 L305.0,191.1 L307.4,190.5 L309.7,190.0 L312.0,189.5 L314.4,189.0 L316.7,188.6 L319.0,188.2 L321.4,187.7 L323.7,187.4 L326.0,187.0 L328.4,186.6 L330.7,186.3 L333.1,186.0 L335.4,185.8 L337.7,185.6 L340.1,185.4 L342.4,185.3 L344.7,185.2 L347.1,185.1 L349.4,185.1 L351.7,185.1 L354.1,185.2 L356.4,185.3 L358.7,185.4 L361.1,185.7 L363.4,185.9 L365.7,186.3 L368.1,186.6 L370.4,187.1 L372.8,187.5 L375.1,188.1 L377.4,188.6 L379.8,189.2 L382.1,189.8 L384.4,190.5 L386.8,191.2 L389.1,191.9 L391.4,192.6 L393.8,193.3 L396.1,194.0 L398.4,194.8 L400.8,195.5 L403.1,196.3 L405.4,197.0 L407.8,197.8 L410.1,198.5 L412.5,199.3 L414.8,200.0 L417.1,200.7 L419.5,201.5 L421.8,202.2 L424.1,202.9 L426.5,203.6 L428.8,204.2 L431.1,204.9 L433.5,205.5 L435.8,206.2 L438.1,206.8 L440.5,207.4 L442.8,208.0 L445.1,208.6 L447.5,209.1 L449.8,209.7 L452.2,210.2 L454.5,210.8 L456.8,211.3 L459.2,211.8 L461.5,212.2 L463.8,212.7 L466.2,213.2 L468.5,213.6 L470.8,214.0 L473.2,214.4 L475.5,214.9 L477.8,215.2 L480.2,215.6 L482.5,216.0 L484.8,216.4 L487.2,216.7 L489.5,217.1 L491.9,217.4 L494.2,217.8 L496.5,218.1 L498.9,218.4 L501.2,218.7 L503.5,219.0 L505.9,219.3 L508.2,219.6 L510.5,219.9 L512.9,220.1 L515.2,220.4 L517.5,220.6 L519.9,220.9 L522.2,221.1 L524.5,221.3 L526.9,221.6 L529.2,221.8 L531.6,222.0 L533.9,222.2 L536.2,222.4 L538.6,222.6 L540.9,222.8 L543.2,223.0 L545.6,223.2 L547.9,223.4 L550.2,223.5 L552.6,223.7 L554.9,223.9 L557.2,224.0 L559.6,224.2 L561.9,224.4 L564.2,224.5 L566.6,224.7 L568.9,224.8 L571.3,224.9 L573.6,225.1 L575.9,225.2 L578.3,225.3 L580.6,225.4 L582.9,225.6 L585.3,225.7 L587.6,225.8 L589.9,225.9 L592.3,226.0 L594.6,226.1 L596.9,226.2 L599.3,226.3 L601.6,226.3 L603.9,226.4 L606.3,226.5 L608.6,226.6 L611.0,226.6 L613.3,226.7 L615.6,226.8 L618.0,226.8 L620.3,226.9 L622.6,227.0 L625.0,227.0 L627.3,227.1 L629.6,227.1 L632.0,227.2 L634.3,227.2 L636.6,227.3 L639.0,227.3 L641.3,227.4 L643.6,227.4 L646.0,227.5 L648.3,227.5 L650.7,227.6 L653.0,227.6 L655.3,227.6 L657.7,227.7 L660.0,227.7 L662.3,227.7 L664.7,227.8 L667.0,227.8 L669.3,227.8 L671.7,227.8 L674.0,227.9 L676.3,227.9 L678.7,227.9 L681.0,227.9 L683.4,228.0 L685.7,228.0 L688.0,228.0 L690.4,228.0 L692.7,228.0 L695.0,228.1 L697.4,228.1 L699.7,228.1 L702.0,228.1 L704.4,228.1 L706.7,228.1 L709.0,228.2 L711.4,228.2 L713.7,228.2 L716.0,228.2 L718.4,228.2 L720.7,228.2 L723.1,228.2 L725.4,228.3 L727.7,228.3 L730.1,228.3 L732.4,228.3 L734.7,228.3 L737.1,228.3 L739.4,228.3 L741.7,228.3 L744.1,228.3 L746.4,228.3 L748.7,228.3 L751.1,228.4 L753.4,228.4 L755.7,228.4 L758.1,228.4 L760.4,228.4 L762.8,228.4 L765.1,228.4 L767.4,228.4 L769.8,228.4 L772.1,228.4 L774.4,228.4 L776.8,228.4 L779.1,228.4 L781.4,228.4 L783.8,228.4 L786.1,228.5 L788.4,228.5 L790.8,228.5 L793.1,228.5 L795.4,228.5 L797.8,228.5 L800.1,228.5 L802.5,228.5 L804.8,228.5 L807.1,228.5 L809.5,228.5 L811.8,228.5 L814.1,228.5 L816.5,228.5 L818.8,228.5" fill="none" stroke="#a2142f" stroke-width="5" stroke-dasharray="10 5.6 1.4 5.6"/>
</g>
<path d="M118.2,51.3h0 M118.8,51.3h0 M119.4,51.3h0 M120.0,51.3h0 M120.6,51.3h0 M121.2,51.3h0 M121.8,51.3h0 M122.4,51.3h0 M123.0,51.3h0 M123.6,51.3h0 M124.2,51.4h0 M144.5,52.4h0 M146.8,52.6h0 M149.0,52.9h0 M151.1,53.1h0 M153.2,53.3h0 M155.2,53.5h0 M157.4,53.8h0 M159.6,54.1h0 M263.4,71.9h0 M264.4,72.0h0 M265.4,72.1h0 M266.4,72.2h0 M267.4,72.3h0 M268.4,72.4h0 M269.4,72.5h0 M270.4,72.6h0 M271.4,72.7h0 M272.4,72.8h0 M317.8,73.8h0 M318.8,73.7h0 M319.8,73.7h0 M320.8,73.6h0 M321.8,73.6h0 M322.8,73.5h0 M323.8,73.4h0 M324.8,73.3h0 M325.8,73.3h0 M328.0,73.1h0 M330.2,72.9h0 M332.3,72.7h0 M334.4,72.5h0 M336.5,72.3h0 M338.5,72.0h0 M340.5,71.8h0 M342.5,71.5h0 M344.4,71.3h0 M346.3,71.0h0 M348.2,70.8h0 M350.1,70.5h0 M351.9,70.2h0 M353.7,70.0h0 M355.5,69.7h0 M357.2,69.4h0 M359.0,69.1h0 M360.7,68.9h0 M362.3,68.6h0 M364.0,68.3h0 M365.6,68.0h0 M367.2,67.7h0 M368.0,67.6h0 M368.8,67.4h0 M369.6,67.3h0 M370.4,67.2h0 M371.2,67.0h0 M372.0,66.9h0 M372.8,66.7h0 M373.6,66.6h0 M374.4,66.4h0 M375.2,66.3h0 M376.0,66.1h0 M376.8,66.0h0 M377.6,65.8h0 M378.4,65.7h0 M379.2,65.5h0 M380.0,65.4h0 M380.8,65.2h0 M381.6,65.1h0 M382.4,64.9h0 M383.2,64.7h0 M384.0,64.6h0 M384.8,64.4h0 M385.6,64.3h0 M386.4,64.1h0 M387.2,64.0h0 M388.0,63.8h0 M388.8,63.7h0 M389.6,63.5h0 M390.4,63.3h0 M391.2,63.2h0 M392.0,63.0h0 M392.8,62.9h0 M393.6,62.7h0 M394.4,62.6h0 M395.2,62.4h0 M396.0,62.2h0 M396.8,62.1h0 M397.6,61.9h0 M398.4,61.8h0 M399.2,61.6h0 M400.0,61.5h0 M400.8,61.3h0 M401.6,61.1h0 M402.4,61.0h0 M403.2,60.8h0 M404.0,60.7h0 M404.8,60.5h0 M405.6,60.4h0 M406.4,60.2h0 M407.2,60.1h0 M408.0,59.9h0 M408.8,59.8h0 M409.6,59.6h0 M410.4,59.5h0 M411.2,59.3h0 M412.0,59.2h0 M412.8,59.0h0 M413.6,58.9h0 M414.4,58.7h0 M415.2,58.6h0 M416.0,58.4h0 M416.8,58.3h0 M417.6,58.1h0 M418.4,58.0h0 M419.2,57.8h0 M420.0,57.7h0 M420.8,57.6h0 M421.6,57.4h0 M422.4,57.3h0 M423.2,57.1h0 M424.0,57.0h0 M424.8,56.9h0 M425.6,56.7h0 M426.4,56.6h0 M427.2,56.5h0 M428.0,56.3h0 M428.8,56.2h0 M429.6,56.1h0 M430.4,56.0h0 M431.2,55.8h0 M432.0,55.7h0 M432.8,55.6h0 M433.6,55.5h0 M434.4,55.3h0 M435.2,55.2h0 M436.0,55.1h0 M436.8,55.0h0 M437.6,54.9h0 M438.4,54.8h0 M439.2,54.7h0 M440.0,54.5h0 M440.8,54.4h0 M441.6,54.3h0 M442.4,54.2h0 M443.2,54.1h0 M444.0,54.0h0 M444.8,53.9h0 M445.6,53.8h0 M446.4,53.7h0 M447.2,53.6h0 M448.0,53.5h0 M448.8,53.4h0 M449.6,53.3h0 M450.4,53.3h0 M451.2,53.2h0 M452.0,53.1h0 M452.8,53.0h0 M453.6,52.9h0 M454.4,52.8h0 M455.2,52.8h0 M456.0,52.7h0 M456.8,52.6h0 M457.6,52.5h0 M458.4,52.5h0 M459.2,52.4h0 M460.0,52.3h0 M460.8,52.3h0 M461.6,52.2h0 M462.4,52.1h0 M463.2,52.1h0 M464.0,52.0h0 M464.8,52.0h0 M465.6,51.9h0 M466.4,51.9h0 M467.2,51.8h0 M468.0,51.8h0 M468.8,51.7h0 M469.6,51.7h0 M470.4,51.7h0 M471.2,51.6h0 M472.0,51.6h0 M472.8,51.5h0 M473.6,51.5h0 M474.4,51.5h0 M475.2,51.5h0 M476.0,51.4h0 M476.8,51.4h0 M477.6,51.4h0 M478.4,51.4h0 M479.2,51.4h0 M480.0,51.3h0 M480.8,51.3h0 M483.0,51.3h0 M485.3,51.3h0 M487.6,51.3h0 M490.1,51.3h0" stroke="#000" stroke-width="2.6" stroke-linecap="round" fill="none"/>
<path d="M126.5,51.4h0 M129.5,51.5h0 M132.5,51.6h0 M135.5,51.8h0 M138.5,52.0h0 M141.5,52.2h0 M162.1,54.4h0 M164.7,54.7h0 M167.5,55.1h0 M174.5,56.2h0 M181.5,57.4h0 M188.5,58.6h0 M195.5,60.0h0 M202.5,61.3h0 M209.5,62.7h0 M216.5,64.1h0 M223.5,65.4h0 M228.6,66.4h0 M233.1,67.2h0 M237.5,68.0h0 M241.9,68.7h0 M246.3,69.5h0 M250.6,70.1h0 M254.9,70.8h0 M259.1,71.3h0 M273.7,72.9h0 M277.0,73.2h0 M280.3,73.5h0 M283.5,73.7h0 M286.8,73.9h0 M290.0,74.0h0 M293.1,74.1h0 M296.3,74.2h0 M299.4,74.2h0 M302.6,74.2h0 M305.7,74.2h0 M308.7,74.1h0 M311.8,74.1h0 M314.8,73.9h0 M492.5,51.4h0 M495.1,51.5h0 M497.7,51.6h0 M500.4,51.7h0 M503.2,51.8h0 M506.0,52.0h0 M509.0,52.2h0 M512.0,52.5h0 M515.1,52.8h0 M518.3,53.1h0 M521.6,53.5h0 M525.0,53.9h0 M528.5,54.3h0 M532.2,54.8h0 M535.9,55.4h0 M539.8,56.0h0 M543.8,56.6h0 M547.9,57.3h0 M552.2,58.1h0 M556.6,58.9h0 M561.2,59.7h0 M565.9,60.6h0 M570.8,61.6h0 M575.8,62.6h0 M581.0,63.6h0 M586.3,64.6h0 M591.9,65.7h0 M597.5,66.8h0 M603.2,67.8h0 M609.0,68.8h0 M614.9,69.7h0 M620.9,70.6h0 M627.0,71.5h0 M633.2,72.2h0 M639.5,72.9h0 M646.0,73.4h0 M652.5,73.8h0 M659.2,74.1h0 M665.9,74.2h0 M672.8,74.2h0 M679.8,74.0h0 M686.9,73.7h0 M694.2,73.1h0 M701.5,72.4h0 M709.0,71.6h0 M716.8,70.5h0 M724.8,69.3h0 M733.1,67.9h0 M741.7,66.3h0 M750.6,64.6h0 M759.9,62.8h0 M769.4,61.0h0 M779.3,59.1h0 M788.7,57.4h0 M797.3,56.0h0 M805.1,54.8h0 M812.3,53.8h0 M818.8,53.1h0" stroke="#000" stroke-width="3.0" stroke-linecap="round" fill="none"/>
<path d="M118.2,601.7h0 M118.8,601.7h0 M119.4,601.7h0 M120.0,601.7h0 M120.6,601.7h0 M121.2,601.7h0 M121.8,601.7h0 M122.4,601.7h0 M123.0,601.7h0 M123.6,601.7h0 M124.2,601.7h0 M144.5,601.4h0 M146.8,601.4h0 M149.0,601.3h0 M151.1,601.2h0 M153.2,601.2h0 M155.2,601.1h0 M157.4,601.1h0 M159.6,601.0h0 M263.4,593.9h0 M264.4,593.8h0 M265.4,593.7h0 M266.4,593.6h0 M267.4,593.5h0 M268.4,593.5h0 M269.4,593.4h0 M270.4,593.3h0 M271.4,593.2h0 M272.4,593.1h0 M317.8,588.6h0 M318.8,588.5h0 M319.8,588.5h0 M320.8,588.4h0 M321.8,588.3h0 M322.8,588.2h0 M323.8,588.1h0 M324.8,588.0h0 M325.8,587.9h0 M328.0,587.7h0 M330.2,587.5h0 M332.3,587.3h0 M334.4,587.1h0 M336.5,586.9h0 M338.5,586.7h0 M340.5,586.5h0 M342.5,586.3h0 M344.4,586.1h0 M346.3,585.9h0 M348.2,585.8h0 M350.1,585.6h0 M351.9,585.4h0 M353.7,585.3h0 M355.5,585.1h0 M357.2,585.0h0 M359.0,584.8h0 M360.7,584.7h0 M362.3,584.5h0 M364.0,584.4h0 M365.6,584.3h0 M367.2,584.1h0 M368.0,584.1h0 M368.8,584.0h0 M369.6,583.9h0 M370.4,583.9h0 M371.2,583.8h0 M372.0,583.7h0 M372.8,583.7h0 M373.6,583.6h0 M374.4,583.5h0 M375.2,583.5h0 M376.0,583.4h0 M376.8,583.3h0 M377.6,583.3h0 M378.4,583.2h0 M379.2,583.2h0 M380.0,583.1h0 M380.8,583.0h0 M381.6,583.0h0 M382.4,582.9h0 M383.2,582.9h0 M384.0,582.8h0 M384.8,582.7h0 M385.6,582.7h0 M386.4,582.6h0 M387.2,582.6h0 M388.0,582.5h0 M388.8,582.4h0 M389.6,582.4h0 M390.4,582.3h0 M391.2,582.3h0 M392.0,582.2h0 M392.8,582.2h0 M393.6,582.1h0 M394.4,582.0h0 M395.2,582.0h0 M396.0,581.9h0 M396.8,581.9h0 M397.6,581.8h0 M398.4,581.8h0 M399.2,581.7h0 M400.0,581.7h0 M400.8,581.6h0 M401.6,581.6h0 M402.4,581.5h0 M403.2,581.5h0 M404.0,581.4h0 M404.8,581.4h0 M405.6,581.3h0 M406.4,581.3h0 M407.2,581.2h0 M408.0,581.2h0 M408.8,581.1h0 M409.6,581.1h0 M410.4,581.0h0 M411.2,581.0h0 M412.0,580.9h0 M412.8,580.9h0 M413.6,580.8h0 M414.4,580.8h0 M415.2,580.8h0 M416.0,580.7h0 M416.8,580.7h0 M417.6,580.6h0 M418.4,580.6h0 M419.2,580.5h0 M420.0,580.5h0 M420.8,580.5h0 M421.6,580.4h0 M422.4,580.4h0 M423.2,580.3h0 M424.0,580.3h0 M424.8,580.3h0 M425.6,580.2h0 M426.4,580.2h0 M427.2,580.1h0 M428.0,580.1h0 M428.8,580.1h0 M429.6,580.0h0 M430.4,580.0h0 M431.2,580.0h0 M432.0,579.9h0 M432.8,579.9h0 M433.6,579.9h0 M434.4,579.8h0 M435.2,579.8h0 M436.0,579.8h0 M436.8,579.7h0 M437.6,579.7h0 M438.4,579.7h0 M439.2,579.6h0 M440.0,579.6h0 M440.8,579.6h0 M441.6,579.6h0 M442.4,579.5h0 M443.2,579.5h0 M444.0,579.5h0 M444.8,579.4h0 M445.6,579.4h0 M446.4,579.4h0 M447.2,579.4h0 M448.0,579.3h0 M448.8,579.3h0 M449.6,579.3h0 M450.4,579.3h0 M451.2,579.2h0 M452.0,579.2h0 M452.8,579.2h0 M453.6,579.2h0 M454.4,579.2h0 M455.2,579.1h0 M456.0,579.1h0 M456.8,579.1h0 M457.6,579.1h0 M458.4,579.1h0 M459.2,579.0h0 M460.0,579.0h0 M460.8,579.0h0 M461.6,579.0h0 M462.4,579.0h0 M463.2,579.0h0 M464.0,579.0h0 M464.8,578.9h0 M465.6,578.9h0 M466.4,578.9h0 M467.2,578.9h0 M468.0,578.9h0 M468.8,578.9h0 M469.6,578.9h0 M470.4,578.9h0 M471.2,578.8h0 M472.0,578.8h0 M472.8,578.8h0 M473.6,578.8h0 M474.4,578.8h0 M475.2,578.8h0 M476.0,578.8h0 M476.8,578.8h0 M477.6,578.8h0 M478.4,578.8h0 M479.2,578.8h0 M480.0,578.8h0 M480.8,578.8h0 M483.0,578.8h0 M485.3,578.8h0 M487.6,578.8h0 M490.1,578.8h0" stroke="#000" stroke-width="2.6" stroke-linecap="round" fill="none"/>
<path d="M126.5,601.7h0 M129.5,601.6h0 M132.5,601.6h0 M135.5,601.6h0 M138.5,601.5h0 M141.5,601.5h0 M162.1,600.9h0 M164.7,600.8h0 M167.5,600.7h0 M174.5,600.4h0 M181.5,600.1h0 M188.5,599.7h0 M195.5,599.3h0 M202.5,598.8h0 M209.5,598.4h0 M216.5,597.9h0 M223.5,597.3h0 M228.6,596.9h0 M233.1,596.6h0 M237.5,596.2h0 M241.9,595.8h0 M246.3,595.5h0 M250.6,595.1h0 M254.9,594.7h0 M259.1,594.3h0 M273.7,592.9h0 M277.0,592.6h0 M280.3,592.3h0 M283.5,592.0h0 M286.8,591.7h0 M290.0,591.4h0 M293.1,591.1h0 M296.3,590.8h0 M299.4,590.4h0 M302.6,590.1h0 M305.7,589.8h0 M308.7,589.5h0 M311.8,589.2h0 M314.8,588.9h0 M492.5,578.8h0 M495.1,578.8h0 M497.7,578.8h0 M500.4,578.9h0 M503.2,578.9h0 M506.0,579.0h0 M509.0,579.0h0 M512.0,579.1h0 M515.1,579.1h0 M518.3,579.2h0 M521.6,579.3h0 M525.0,579.4h0 M528.5,579.6h0 M532.2,579.7h0 M535.9,579.8h0 M539.8,580.0h0 M543.8,580.2h0 M547.9,580.4h0 M552.2,580.6h0 M556.6,580.9h0 M561.2,581.1h0 M565.9,581.4h0 M570.8,581.7h0 M575.8,582.1h0 M581.0,582.4h0 M586.3,582.8h0 M591.9,583.2h0 M597.5,583.7h0 M603.2,584.2h0 M609.0,584.6h0 M614.9,585.2h0 M620.9,585.7h0 M627.0,586.2h0 M633.2,586.8h0 M639.5,587.4h0 M646.0,588.0h0 M652.5,588.7h0 M659.2,589.3h0 M665.9,590.0h0 M672.8,590.7h0 M679.8,591.3h0 M686.9,592.0h0 M694.2,592.7h0 M701.5,593.4h0 M709.0,594.1h0 M716.8,594.8h0 M724.8,595.6h0 M733.1,596.3h0 M741.7,597.0h0 M750.6,597.7h0 M759.9,598.3h0 M769.4,599.0h0 M779.3,599.6h0 M788.7,600.1h0 M797.3,600.5h0 M805.1,600.8h0 M812.3,601.0h0 M818.8,601.2h0" stroke="#000" stroke-width="3.0" stroke-linecap="round" fill="none"/>
<path d="M118.2,601.7 v-7 M118.2,51.3 v7 M235.0,601.7 v-7 M235.0,51.3 v7 M351.7,601.7 v-7 M351.7,51.3 v7 M468.5,601.7 v-7 M468.5,51.3 v7 M585.3,601.7 v-7 M585.3,51.3 v7 M702.0,601.7 v-7 M702.0,51.3 v7 M818.8,601.7 v-7 M818.8,51.3 v7 M118.2,601.7 h7 M818.8,601.7 h-7 M118.2,510.0 h7 M818.8,510.0 h-7 M118.2,418.2 h7 M818.8,418.2 h-7 M118.2,326.5 h7 M818.8,326.5 h-7 M118.2,234.8 h7 M818.8,234.8 h-7 M118.2,143.0 h7 M818.8,143.0 h-7 M118.2,51.3 h7 M818.8,51.3 h-7" stroke="#000" stroke-width="1.2" fill="none"/>
<rect x="118.2" y="51.3" width="700.6" height="550.4" fill="none" stroke="#1a1a1a" stroke-width="1.6"/>
<g font-family="Liberation Sans, sans-serif" font-size="30" fill="#000">
<text x="118.2" y="635.3" text-anchor="middle">0</text>
<text x="235.0" y="635.3" text-anchor="middle">0.5</text>
<text x="351.7" y="635.3" text-anchor="middle">1</text>
<text x="468.5" y="635.3" text-anchor="middle">1.5</text>
<text x="585.3" y="635.3" text-anchor="middle">2</text>
<text x="702.0" y="635.3" text-anchor="middle">2.5</text>
<text x="818.8" y="635.3" text-anchor="middle">3</text>
<text x="113.4" y="613.3" text-anchor="end">−3</text>
<text x="113.4" y="521.6" text-anchor="end">−2</text>
<text x="113.4" y="429.8" text-anchor="end">−1</text>
<text x="113.4" y="338.1" text-anchor="end">0</text>
<text x="113.4" y="246.4" text-anchor="end">1</text>
<text x="113.4" y="154.6" text-anchor="end">2</text>
<text x="113.4" y="62.9" text-anchor="end">3</text>
</g>
<g clip-path="url(#clipB)">
<path d="M1056.2,327.7 L1057.5,327.5 L1058.7,327.3 L1060.0,327.1 L1061.2,326.9 L1062.5,326.7 L1063.7,326.5 L1065.0,326.2 L1066.3,326.0 L1067.5,325.7 L1068.8,325.4 L1070.0,325.1 L1071.3,324.8 L1072.5,324.5 L1073.8,324.2 L1075.1,323.9 L1076.3,323.6 L1077.6,323.3 L1078.8,322.9 L1080.1,322.5 L1081.3,322.1 L1082.6,321.7 L1083.8,321.3 L1085.1,320.9 L1086.4,320.4 L1087.6,320.0 L1088.9,319.6 L1090.1,319.1 L1091.4,318.7 L1092.6,318.2 L1093.9,317.8 L1095.2,317.3 L1096.4,316.8 L1097.7,316.3 L1098.9,315.8 L1100.2,315.3 L1101.4,314.8 L1102.7,314.3 L1104.0,313.8 L1105.2,313.2 L1106.5,312.7 L1107.7,312.2 L1109.0,311.6 L1110.2,311.1 L1111.5,310.6 L1112.8,310.0 L1114.0,309.5 L1115.3,309.0 L1116.5,308.4 L1117.8,307.9 L1119.0,307.3 L1120.3,306.8 L1121.5,306.2 L1122.8,305.6 L1124.1,305.1 L1125.3,304.5 L1126.6,303.9 L1127.8,303.3 L1129.1,302.7 L1130.3,302.1 L1131.6,301.5 L1132.9,300.9 L1134.1,300.2 L1135.4,299.6 L1136.6,298.9 L1137.9,298.2 L1139.1,297.5 L1140.4,296.8 L1141.7,296.1 L1142.9,295.4 L1144.2,294.7 L1145.4,294.0 L1146.7,293.3 L1147.9,292.6 L1149.2,291.9 L1150.5,291.2 L1151.7,290.5 L1153.0,289.8 L1154.2,289.1 L1155.5,288.4 L1156.7,287.7 L1158.0,287.0 L1159.2,286.4 L1160.5,285.7 L1161.8,285.0 L1163.0,284.3 L1164.3,283.6 L1165.5,282.9 L1166.8,282.2 L1168.0,281.5 L1169.3,280.8 L1170.6,280.1 L1171.8,279.4 L1173.1,278.7 L1174.3,278.0 L1175.6,277.2 L1176.8,276.5 L1178.1,275.8 L1179.4,275.0 L1180.6,274.3 L1181.9,273.5 L1183.1,272.8 L1184.4,272.0 L1185.6,271.3 L1186.9,270.5 L1188.2,269.8 L1189.4,269.0 L1190.7,268.2 L1191.9,267.4 L1193.2,266.7 L1194.4,265.9 L1195.7,265.1 L1197.0,264.3 L1198.2,263.5 L1199.5,262.7 L1200.7,261.9 L1202.0,261.1 L1203.2,260.2 L1204.5,259.4 L1205.7,258.6 L1206.2,258.3 L1206.6,258.0 L1207.1,257.7 L1207.5,257.4 L1208.0,257.1 L1208.4,256.8 L1208.9,256.5 L1209.3,256.2 L1209.8,255.9 L1210.2,255.6 L1210.7,255.2 L1211.1,254.9 L1211.6,254.6 L1212.0,254.3 L1212.5,254.0 L1212.9,253.7 L1213.3,253.4 L1213.8,253.1 L1214.2,252.8 L1214.7,252.5 L1215.1,252.2 L1215.6,251.9 L1216.0,251.6 L1216.5,251.4 L1216.9,251.1 L1217.4,250.8 L1217.8,250.5 L1218.3,250.2 L1218.7,249.9 L1219.2,249.6 L1219.6,249.3 L1220.1,249.0 L1220.5,248.7 L1220.9,248.4 L1221.4,248.1 L1221.8,247.8 L1222.3,247.5 L1222.7,247.2 L1223.2,246.9 L1223.6,246.6 L1224.1,246.4 L1224.5,246.1 L1225.0,245.8 L1225.4,245.5 L1225.9,245.2 L1226.3,244.9 L1226.8,244.6 L1227.2,244.3 L1227.7,244.1 L1228.1,243.8 L1228.6,243.5 L1229.0,243.2 L1229.4,242.9 L1229.9,242.6 L1230.3,242.3 L1230.8,242.1 L1231.2,241.8 L1231.7,241.5 L1232.1,241.2 L1232.6,240.9 L1233.0,240.6 L1233.5,240.4 L1233.9,240.1 L1234.4,239.8 L1234.8,239.5 L1235.3,239.2 L1235.7,239.0 L1236.2,238.7 L1236.6,238.4 L1237.0,238.1 L1237.5,237.8 L1237.9,237.6 L1238.4,237.3 L1238.8,237.0 L1239.3,236.7 L1239.7,236.5 L1240.2,236.2 L1240.6,235.9 L1241.1,235.6 L1241.5,235.4 L1242.0,235.1 L1242.4,234.8 L1242.9,234.5 L1243.3,234.3 L1243.8,234.0 L1244.2,233.7 L1244.6,233.4 L1245.1,233.2 L1245.5,232.9 L1246.0,232.6 L1246.4,232.4 L1246.9,232.1 L1247.3,231.8 L1247.8,231.6 L1248.2,231.3 L1248.7,231.0 L1249.1,230.8 L1249.6,230.5 L1250.0,230.2 L1250.5,230.0 L1250.9,229.7 L1251.4,229.4 L1251.8,229.2 L1252.2,228.9 L1252.7,228.6 L1253.1,228.4 L1253.6,228.1 L1254.0,227.8 L1254.5,227.6 L1254.9,227.3 L1255.4,227.0 L1255.8,226.8 L1256.3,226.5 L1256.7,226.3 L1257.2,226.0 L1257.6,225.7 L1258.1,225.5 L1258.5,225.2 L1259.0,225.0 L1259.3,224.9 L1259.7,224.9 L1260.1,224.9 L1260.5,224.9 L1260.9,224.8 L1261.3,224.8 L1261.7,224.8 L1262.1,224.8 L1262.5,224.7 L1262.9,224.7 L1263.3,224.7 L1263.7,224.7 L1264.1,224.6 L1264.4,224.6 L1264.8,224.6 L1265.2,224.5 L1265.6,224.5 L1266.0,224.5 L1266.4,224.5 L1266.8,224.4 L1267.2,224.4 L1267.6,224.4 L1268.0,224.3 L1268.4,224.3 L1268.8,224.3 L1269.1,224.3 L1269.5,224.2 L1269.9,224.2 L1270.3,224.2 L1270.7,224.1 L1271.1,224.1 L1271.5,224.1 L1271.9,224.0 L1272.3,224.0 L1272.7,224.0 L1273.1,224.0 L1273.5,223.9 L1273.9,223.9 L1274.2,223.9 L1274.6,223.8 L1275.0,223.8 L1275.4,223.8 L1275.8,223.7 L1276.2,223.7 L1276.6,223.7 L1277.0,223.6 L1277.4,223.6 L1277.8,223.6 L1278.2,223.5 L1278.6,223.5 L1278.9,223.4 L1279.3,223.4 L1279.7,223.3 L1280.1,223.3 L1280.5,223.3 L1280.9,223.2 L1281.3,223.2 L1281.7,223.1 L1282.1,223.1 L1282.5,223.0 L1282.9,223.0 L1283.3,222.9 L1283.7,222.9 L1284.0,222.8 L1284.4,222.8 L1284.8,222.7 L1285.2,222.7 L1285.6,222.7 L1286.0,222.6 L1286.4,222.6 L1286.8,222.5 L1287.2,222.5 L1287.6,222.4 L1288.0,222.4 L1288.4,222.4 L1288.7,222.3 L1289.1,222.3 L1289.5,222.2 L1289.9,222.2 L1290.3,222.2 L1290.7,222.2 L1291.1,222.1 L1291.5,222.1 L1291.9,222.1 L1292.3,222.0 L1292.7,222.0 L1293.1,222.0 L1293.5,222.0 L1293.8,222.0 L1294.2,222.0 L1294.6,221.9 L1295.0,221.9 L1295.4,221.9 L1295.8,221.9 L1296.2,221.9 L1296.6,221.9 L1297.0,222.0 L1297.4,222.0 L1297.8,222.0 L1298.2,222.1 L1298.5,222.1 L1298.9,222.2 L1299.3,222.3 L1299.7,222.3 L1300.1,222.4 L1300.5,222.5 L1300.9,222.6 L1301.3,222.7 L1301.7,222.8 L1302.1,222.9 L1302.5,223.0 L1302.9,223.1 L1303.2,223.2 L1303.6,223.4 L1304.0,223.5 L1304.4,223.6 L1304.8,223.7 L1305.2,223.8 L1305.6,224.0 L1309.4,226.3 L1313.2,229.1 L1317.0,232.2 L1320.9,235.7 L1324.7,239.6 L1328.5,243.8 L1332.3,248.4 L1336.1,253.1 L1339.9,257.7 L1343.7,262.4 L1347.5,267.0 L1351.4,271.8 L1355.2,276.4 L1359.0,280.3 L1362.8,283.7 L1366.6,286.8 L1370.4,289.6 L1374.2,292.2 L1378.1,294.6 L1381.9,296.9 L1385.7,299.0 L1389.5,301.1 L1393.3,303.1 L1397.1,304.9 L1400.9,306.5 L1404.8,308.0 L1408.6,309.3 L1412.4,310.6 L1416.2,311.8 L1420.0,312.8 L1423.8,313.8 L1427.6,314.8 L1431.4,315.6 L1435.3,316.4 L1439.1,317.1 L1442.9,317.8 L1446.7,318.4 L1450.5,318.9 L1454.3,319.5 L1458.1,320.0 L1462.0,320.5 L1465.8,320.9 L1469.6,321.3 L1473.4,321.7 L1477.2,322.1 L1481.0,322.5 L1484.8,322.8 L1488.6,323.1 L1492.5,323.3 L1496.3,323.6 L1500.1,323.9 L1503.9,324.1 L1507.7,324.3 L1511.5,324.5 L1515.3,324.7 L1519.2,324.9 L1523.0,325.0 L1526.8,325.2 L1530.6,325.3 L1534.4,325.4 L1538.2,325.6 L1542.0,325.7 L1545.8,325.8 L1549.7,325.9 L1553.5,326.0 L1557.3,326.1 L1561.1,326.2 L1564.9,326.2 L1568.7,326.3 L1572.5,326.4 L1576.4,326.5 L1580.2,326.6 L1584.0,326.7 L1587.8,326.8 L1591.6,326.8 L1595.4,326.9 L1599.2,327.0 L1603.0,327.0 L1606.9,327.1 L1610.7,327.1 L1614.5,327.2 L1618.3,327.2 L1622.1,327.3 L1625.9,327.3 L1629.7,327.4 L1633.6,327.4 L1637.4,327.4 L1641.2,327.5 L1645.0,327.5 L1648.8,327.5 L1652.6,327.6 L1656.4,327.6 L1660.3,327.6 L1664.1,327.6 L1667.9,327.6 L1671.7,327.6 L1675.5,327.6 L1679.3,327.6 L1683.1,327.6 L1686.9,327.6 L1690.8,327.6 L1694.6,327.7 L1698.4,327.7 L1702.2,327.7 L1706.0,327.7 L1709.8,327.7 L1713.6,327.7 L1717.5,327.7 L1721.3,327.7 L1725.1,327.7 L1728.9,327.7 L1732.7,327.7 L1736.5,327.7 L1740.3,327.7 L1744.1,327.7 L1748.0,327.7 L1751.8,327.7 L1755.6,327.7 L1759.4,327.7" fill="none" stroke="#0000ff" stroke-width="3.4" stroke-dasharray="9.7 8.8" stroke-linejoin="miter"/>
<path d="M1056.2,327.7 L1085.2,343.7 L1114.1,359.7 L1143.1,375.8 L1172.1,391.8 L1201.0,407.8 L1230.0,423.8 L1259.0,439.8 L1263.2,434.2 L1267.4,428.6 L1271.6,423.2 L1275.8,417.9 L1280.0,412.7 L1284.2,407.6 L1288.4,402.7 L1292.6,397.9 L1296.8,393.2 L1301.0,388.6 L1305.2,384.5 L1309.4,380.7 L1313.6,377.2 L1317.8,374.3 L1322.0,371.7 L1326.2,369.3 L1330.4,367.2 L1334.7,365.1 L1338.9,363.0 L1343.1,361.0 L1347.3,359.1 L1351.5,357.4 L1355.7,355.8 L1359.9,354.5 L1364.1,353.2 L1368.3,352.0 L1372.5,350.8 L1376.7,349.7 L1380.9,348.5 L1385.1,347.3 L1389.3,346.1 L1393.5,344.8 L1397.7,343.5 L1401.9,342.4 L1406.1,341.5 L1410.4,340.5 L1414.6,339.7 L1418.8,339.0 L1423.0,338.4 L1427.2,337.9 L1431.4,337.5 L1435.6,337.1 L1439.8,336.7 L1444.0,336.3 L1448.2,335.9 L1452.4,335.5 L1456.6,335.2 L1460.8,334.8 L1465.0,334.5 L1469.2,334.2 L1473.4,333.9 L1477.6,333.5 L1481.8,333.2 L1486.0,333.0 L1490.3,332.7 L1494.5,332.4 L1498.7,332.1 L1502.9,331.8 L1507.1,331.6 L1511.3,331.3 L1515.5,331.1 L1519.7,330.9 L1523.9,330.7 L1528.1,330.5 L1532.3,330.3 L1536.5,330.2 L1540.7,330.0 L1544.9,329.9 L1549.1,329.8 L1553.3,329.6 L1557.5,329.5 L1561.7,329.4 L1566.0,329.3 L1570.2,329.2 L1574.4,329.1 L1578.6,329.0 L1582.8,328.9 L1587.0,328.8 L1591.2,328.8 L1595.4,328.7 L1599.6,328.6 L1603.8,328.5 L1608.0,328.5 L1612.2,328.4 L1616.4,328.4 L1620.6,328.3 L1624.8,328.3 L1629.0,328.2 L1633.2,328.1 L1637.4,328.1 L1641.6,328.1 L1645.9,328.0 L1650.1,328.0 L1654.3,327.9 L1658.5,327.9 L1662.7,327.9 L1666.9,327.9 L1671.1,327.9 L1675.3,327.9 L1679.5,327.8 L1683.7,327.8 L1687.9,327.8 L1692.1,327.8 L1696.3,327.8 L1700.5,327.8 L1704.7,327.8 L1708.9,327.8 L1713.1,327.8 L1717.3,327.7 L1721.6,327.7 L1725.8,327.7 L1730.0,327.7 L1734.2,327.7 L1738.4,327.7 L1742.6,327.7 L1746.8,327.7 L1751.0,327.7 L1755.2,327.7 L1759.4,327.7" fill="none" stroke="#007f00" stroke-width="5" stroke-dasharray="9.7 8.8" stroke-linejoin="miter"/>
<path d="M1056.2,327.7 L1057.5,326.8 L1058.7,325.8 L1060.0,324.9 L1061.2,324.0 L1062.5,323.1 L1063.7,322.3 L1065.0,321.4 L1066.3,320.6 L1067.5,319.8 L1068.8,319.0 L1070.0,318.3 L1071.3,317.5 L1072.5,316.8 L1073.8,316.1 L1075.1,315.4 L1076.3,314.7 L1077.6,314.1 L1078.8,313.5 L1080.1,312.9 L1081.3,312.4 L1082.6,311.8 L1083.8,311.3 L1085.1,310.7 L1086.4,310.2 L1087.6,309.7 L1088.9,309.2 L1090.1,308.8 L1091.4,308.3 L1092.6,307.9 L1093.9,307.5 L1095.2,307.1 L1096.4,306.7 L1097.7,306.3 L1098.9,306.0 L1100.2,305.6 L1101.4,305.3 L1102.7,305.1 L1104.0,304.8 L1105.2,304.5 L1106.5,304.3 L1107.7,304.0 L1109.0,303.8 L1110.2,303.5 L1111.5,303.3 L1112.8,303.1 L1114.0,302.9 L1115.3,302.7 L1116.5,302.5 L1117.8,302.3 L1119.0,302.1 L1120.3,301.9 L1121.5,301.7 L1122.8,301.5 L1124.1,301.4 L1125.3,301.2 L1126.6,301.0 L1127.8,300.9 L1129.1,300.7 L1130.3,300.5 L1131.6,300.4 L1132.9,300.2 L1134.1,300.1 L1135.4,299.9 L1136.6,299.8 L1137.9,299.6 L1139.1,299.5 L1140.4,299.3 L1141.7,299.2 L1142.9,299.0 L1144.2,298.9 L1145.4,298.7 L1146.7,298.6 L1147.9,298.5 L1149.2,298.4 L1150.5,298.2 L1151.7,298.1 L1153.0,298.0 L1154.2,297.9 L1155.5,297.8 L1156.7,297.7 L1158.0,297.6 L1159.2,297.5 L1160.5,297.4 L1161.8,297.3 L1163.0,297.2 L1164.3,297.1 L1165.5,297.0 L1166.8,296.9 L1168.0,296.9 L1169.3,296.8 L1170.6,296.7 L1171.8,296.6 L1173.1,296.5 L1174.3,296.4 L1175.6,296.4 L1176.8,296.3 L1178.1,296.2 L1179.4,296.1 L1180.6,296.1 L1181.9,296.0 L1183.1,295.9 L1184.4,295.9 L1185.6,295.8 L1186.9,295.8 L1188.2,295.7 L1189.4,295.7 L1190.7,295.6 L1191.9,295.6 L1193.2,295.6 L1194.4,295.6 L1195.7,295.6 L1197.0,295.5 L1198.2,295.5 L1199.5,295.6 L1200.7,295.6 L1202.0,295.6 L1203.2,295.6 L1204.5,295.7 L1205.7,295.7 L1206.2,295.8 L1206.6,295.8 L1207.1,295.9 L1207.5,295.9 L1208.0,296.0 L1208.4,296.0 L1208.9,296.1 L1209.3,296.1 L1209.8,296.2 L1210.2,296.2 L1210.7,296.3 L1211.1,296.3 L1211.6,296.4 L1212.0,296.4 L1212.5,296.5 L1212.9,296.5 L1213.3,296.6 L1213.8,296.7 L1214.2,296.7 L1214.7,296.8 L1215.1,296.8 L1215.6,296.9 L1216.0,296.9 L1216.5,297.0 L1216.9,297.0 L1217.4,297.1 L1217.8,297.1 L1218.3,297.2 L1218.7,297.2 L1219.2,297.3 L1219.6,297.3 L1220.1,297.4 L1220.5,297.4 L1220.9,297.5 L1221.4,297.5 L1221.8,297.6 L1222.3,297.6 L1222.7,297.7 L1223.2,297.7 L1223.6,297.8 L1224.1,297.8 L1224.5,297.9 L1225.0,297.9 L1225.4,298.0 L1225.9,298.0 L1226.3,298.1 L1226.8,298.1 L1227.2,298.2 L1227.7,298.2 L1228.1,298.3 L1228.6,298.3 L1229.0,298.4 L1229.4,298.4 L1229.9,298.4 L1230.3,298.5 L1230.8,298.5 L1231.2,298.6 L1231.7,298.6 L1232.1,298.7 L1232.6,298.7 L1233.0,298.7 L1233.5,298.8 L1233.9,298.8 L1234.4,298.9 L1234.8,298.9 L1235.3,299.0 L1235.7,299.0 L1236.2,299.0 L1236.6,299.1 L1237.0,299.1 L1237.5,299.2 L1237.9,299.2 L1238.4,299.2 L1238.8,299.3 L1239.3,299.3 L1239.7,299.4 L1240.2,299.4 L1240.6,299.5 L1241.1,299.5 L1241.5,299.6 L1242.0,299.6 L1242.4,299.7 L1242.9,299.7 L1243.3,299.7 L1243.8,299.8 L1244.2,299.8 L1244.6,299.9 L1245.1,299.9 L1245.5,300.0 L1246.0,300.1 L1246.4,300.1 L1246.9,300.2 L1247.3,300.2 L1247.8,300.3 L1248.2,300.3 L1248.7,300.4 L1249.1,300.5 L1249.6,300.5 L1250.0,300.6 L1250.5,300.6 L1250.9,300.7 L1251.4,300.8 L1251.8,300.8 L1252.2,300.9 L1252.7,301.0 L1253.1,301.0 L1253.6,301.1 L1254.0,301.2 L1254.5,301.3 L1254.9,301.3 L1255.4,301.4 L1255.8,301.5 L1256.3,301.6 L1256.7,301.7 L1257.2,301.9 L1257.6,302.0 L1258.1,302.1 L1258.5,302.2 L1259.0,302.4 L1259.1,302.4 L1259.3,302.4 L1259.5,302.5 L1259.7,302.5 L1259.9,302.5 L1260.1,302.6 L1260.3,302.6 L1260.5,302.6 L1260.7,302.7 L1260.9,302.7 L1261.1,302.7 L1261.2,302.8 L1261.4,302.8 L1261.6,302.9 L1261.8,302.9 L1262.0,303.0 L1262.2,303.0 L1262.4,303.1 L1262.6,303.1 L1262.8,303.2 L1263.0,303.2 L1263.2,303.3 L1263.4,303.4 L1263.5,303.4 L1263.7,303.5 L1263.9,303.5 L1264.1,303.6 L1264.3,303.7 L1264.5,303.7 L1264.7,303.8 L1264.9,303.8 L1265.1,303.9 L1265.3,304.0 L1265.5,304.0 L1265.6,304.1 L1265.8,304.2 L1266.0,304.3 L1266.2,304.3 L1266.4,304.4 L1266.6,304.5 L1266.8,304.6 L1267.0,304.6 L1267.2,304.7 L1267.4,304.8 L1267.6,304.9 L1267.7,304.9 L1267.9,305.0 L1268.1,305.1 L1268.3,305.2 L1268.5,305.2 L1268.7,305.3 L1268.9,305.4 L1269.1,305.5 L1269.3,305.6 L1269.5,305.7 L1269.7,305.7 L1269.8,305.8 L1270.0,305.9 L1270.2,306.0 L1270.4,306.1 L1270.6,306.2 L1270.8,306.2 L1271.0,306.3 L1271.2,306.4 L1271.4,306.5 L1271.6,306.6 L1271.8,306.7 L1271.9,306.8 L1272.1,306.9 L1272.3,307.0 L1272.5,307.1 L1272.7,307.2 L1272.9,307.3 L1273.1,307.4 L1273.3,307.5 L1273.5,307.6 L1273.7,307.7 L1273.9,307.8 L1274.1,307.9 L1274.2,308.0 L1274.4,308.2 L1274.6,308.3 L1274.8,308.4 L1275.0,308.5 L1275.2,308.6 L1275.4,308.8 L1275.6,308.9 L1275.8,309.0 L1276.0,309.1 L1276.2,309.3 L1276.3,309.4 L1276.5,309.5 L1276.7,309.7 L1276.9,309.8 L1277.1,310.0 L1277.3,310.1 L1277.5,310.2 L1277.7,310.4 L1277.9,310.5 L1278.1,310.7 L1278.3,310.8 L1278.4,311.0 L1278.6,311.1 L1278.8,311.3 L1279.0,311.4 L1279.2,311.6 L1279.4,311.7 L1279.6,311.9 L1279.8,312.0 L1280.0,312.2 L1280.2,312.3 L1280.4,312.5 L1280.5,312.6 L1280.7,312.8 L1280.9,313.0 L1281.1,313.1 L1281.3,313.3 L1281.5,313.4 L1281.7,313.6 L1282.3,313.5 L1282.8,313.3 L1283.4,313.2 L1284.0,313.0 L1284.5,312.8 L1285.1,312.7 L1285.7,312.5 L1286.2,312.3 L1286.8,312.1 L1287.4,311.9 L1287.9,311.7 L1288.5,311.5 L1289.1,311.3 L1289.6,311.1 L1290.2,310.9 L1290.8,310.7 L1291.3,310.5 L1291.9,310.3 L1292.5,310.0 L1293.0,309.8 L1293.6,309.6 L1294.2,309.3 L1294.7,309.1 L1295.3,308.8 L1295.9,308.6 L1296.4,308.3 L1297.0,308.1 L1297.6,307.8 L1298.1,307.5 L1298.7,307.2 L1299.3,306.9 L1299.8,306.6 L1300.4,306.3 L1301.0,306.0 L1301.5,305.7 L1302.1,305.4 L1302.7,305.0 L1303.2,304.7 L1303.8,304.4 L1304.4,304.0 L1305.0,303.7 L1305.5,303.3 L1306.1,303.0 L1306.7,302.6 L1307.2,302.2 L1307.8,301.9 L1308.4,301.5 L1308.9,301.1 L1309.5,300.7 L1310.1,300.4 L1310.6,300.0 L1311.2,299.6 L1311.8,299.2 L1312.3,298.9 L1312.9,298.5 L1313.5,298.1 L1314.0,297.7 L1314.6,297.4 L1315.2,297.0 L1315.7,296.6 L1316.3,296.2 L1316.9,295.9 L1317.4,295.5 L1318.0,295.1 L1318.6,294.7 L1319.1,294.3 L1319.7,293.9 L1320.3,293.5 L1320.8,293.1 L1321.4,292.7 L1322.0,292.3 L1322.5,291.9 L1323.1,291.4 L1323.7,291.0 L1324.2,290.6 L1324.8,290.2 L1325.4,289.7 L1325.9,289.3 L1326.5,288.9 L1327.1,288.5 L1327.6,288.1 L1328.2,287.6 L1328.8,287.2 L1329.3,286.8 L1329.9,286.4 L1330.5,286.0 L1331.0,285.6 L1331.6,285.2 L1332.2,284.8 L1332.7,284.4 L1333.3,284.1 L1333.9,283.7 L1334.5,283.3 L1335.0,283.0 L1335.6,282.6 L1336.2,282.3 L1336.7,282.0 L1337.3,281.7 L1337.9,281.4 L1338.4,281.1 L1339.0,280.8 L1339.6,280.5 L1340.1,280.2 L1340.7,279.9 L1341.3,279.6 L1341.8,279.3 L1342.4,279.0 L1343.0,278.8 L1343.5,278.5 L1344.1,278.2 L1344.7,278.0 L1345.2,277.7 L1345.8,277.5 L1346.4,277.3 L1346.9,277.0 L1347.5,276.8 L1348.1,276.6 L1348.6,276.3 L1349.2,276.1 L1352.6,276.5 L1356.1,276.9 L1359.5,277.4 L1363.0,277.9 L1366.4,278.5 L1369.9,279.2 L1373.3,280.0 L1376.8,280.8 L1380.2,281.7 L1383.7,282.7 L1387.1,283.7 L1390.6,284.7 L1394.0,285.7 L1397.5,286.9 L1400.9,288.0 L1404.4,289.2 L1407.8,290.4 L1411.2,291.6 L1414.7,292.9 L1418.1,294.2 L1421.6,295.5 L1425.0,296.7 L1428.5,298.0 L1431.9,299.2 L1435.4,300.3 L1438.8,301.4 L1442.3,302.4 L1445.7,303.4 L1449.2,304.4 L1452.6,305.3 L1456.1,306.2 L1459.5,307.1 L1463.0,308.0 L1466.4,308.9 L1469.8,309.7 L1473.3,310.5 L1476.7,311.2 L1480.2,311.9 L1483.6,312.6 L1487.1,313.3 L1490.5,313.9 L1494.0,314.6 L1497.4,315.2 L1500.9,315.8 L1504.3,316.4 L1507.8,316.9 L1511.2,317.5 L1514.7,318.0 L1518.1,318.4 L1521.6,318.9 L1525.0,319.3 L1528.4,319.8 L1531.9,320.2 L1535.3,320.6 L1538.8,320.9 L1542.2,321.3 L1545.7,321.7 L1549.1,322.0 L1552.6,322.3 L1556.0,322.6 L1559.5,322.9 L1562.9,323.1 L1566.4,323.3 L1569.8,323.6 L1573.3,323.8 L1576.7,324.0 L1580.2,324.1 L1583.6,324.3 L1587.0,324.5 L1590.5,324.6 L1593.9,324.8 L1597.4,324.9 L1600.8,325.1 L1604.3,325.2 L1607.7,325.3 L1611.2,325.5 L1614.6,325.6 L1618.1,325.7 L1621.5,325.8 L1625.0,325.9 L1628.4,326.0 L1631.9,326.1 L1635.3,326.2 L1638.8,326.3 L1642.2,326.4 L1645.6,326.5 L1649.1,326.6 L1652.5,326.6 L1656.0,326.7 L1659.4,326.8 L1662.9,326.8 L1666.3,326.9 L1669.8,326.9 L1673.2,327.0 L1676.7,327.1 L1680.1,327.1 L1683.6,327.2 L1687.0,327.2 L1690.5,327.2 L1693.9,327.3 L1697.4,327.3 L1700.8,327.4 L1704.2,327.4 L1707.7,327.4 L1711.1,327.4 L1714.6,327.5 L1718.0,327.5 L1721.5,327.5 L1724.9,327.6 L1728.4,327.6 L1731.8,327.6 L1735.3,327.6 L1738.7,327.6 L1742.2,327.6 L1745.6,327.7 L1749.1,327.7 L1752.5,327.7 L1756.0,327.7 L1759.4,327.7" fill="none" stroke="#ff3b3b" stroke-width="3" stroke-dasharray="1.5 5.5" stroke-linejoin="miter"/>
<path d="M1056.2,327.7 L1057.5,327.3 L1058.7,326.9 L1060.0,326.5 L1061.2,326.2 L1062.5,325.8 L1063.7,325.5 L1065.0,325.1 L1066.3,324.8 L1067.5,324.5 L1068.8,324.3 L1070.0,324.0 L1071.3,323.8 L1072.5,323.6 L1073.8,323.3 L1075.1,323.1 L1076.3,322.9 L1077.6,322.7 L1078.8,322.5 L1080.1,322.3 L1081.3,322.1 L1082.6,322.0 L1083.8,321.8 L1085.1,321.7 L1086.4,321.5 L1087.6,321.4 L1088.9,321.4 L1090.1,321.3 L1091.4,321.2 L1092.6,321.2 L1093.9,321.2 L1095.2,321.1 L1096.4,321.1 L1097.7,321.1 L1098.9,321.1 L1100.2,321.0 L1101.4,321.0 L1102.7,321.0 L1104.0,321.0 L1105.2,320.9 L1106.5,320.9 L1107.7,320.9 L1109.0,320.9 L1110.2,320.9 L1111.5,320.8 L1112.8,320.8 L1114.0,320.8 L1115.3,320.8 L1116.5,320.8 L1117.8,320.8 L1119.0,320.8 L1120.3,320.8 L1121.5,320.8 L1122.8,320.8 L1124.1,320.8 L1125.3,320.8 L1126.6,320.8 L1127.8,320.9 L1129.1,320.9 L1130.3,320.9 L1131.6,321.0 L1132.9,321.0 L1134.1,321.1 L1135.4,321.1 L1136.6,321.2 L1137.9,321.2 L1139.1,321.3 L1140.4,321.3 L1141.7,321.4 L1142.9,321.5 L1144.2,321.6 L1145.4,321.7 L1146.7,321.8 L1147.9,322.0 L1149.2,322.2 L1150.5,322.4 L1151.7,322.6 L1153.0,322.8 L1154.2,323.1 L1155.5,323.3 L1156.7,323.6 L1158.0,323.9 L1159.2,324.1 L1160.5,324.4 L1161.8,324.7 L1163.0,325.0 L1164.3,325.3 L1165.5,325.6 L1166.8,325.9 L1168.0,326.2 L1169.3,326.6 L1170.6,326.9 L1171.8,327.3 L1173.1,327.7 L1174.3,328.1 L1175.6,328.5 L1176.8,328.9 L1178.1,329.3 L1179.4,329.8 L1180.6,330.2 L1181.9,330.6 L1183.1,331.1 L1184.4,331.5 L1185.6,332.0 L1186.9,332.4 L1188.2,332.9 L1189.4,333.4 L1190.7,333.8 L1191.9,334.3 L1193.2,334.8 L1194.4,335.4 L1195.7,335.9 L1197.0,336.4 L1198.2,336.9 L1199.5,337.5 L1200.7,338.0 L1202.0,338.6 L1203.2,339.2 L1204.5,339.7 L1205.7,340.3 L1210.4,338.4 L1215.1,337.0 L1219.7,335.7 L1224.4,334.7 L1229.0,334.1 L1233.7,333.8 L1238.3,333.6 L1243.0,333.5 L1247.6,333.8 L1252.3,334.6 L1256.9,335.8 L1261.6,338.8 L1266.2,342.6 L1270.9,346.6 L1275.5,351.4 L1280.2,356.4 L1284.8,361.7 L1289.5,367.3 L1294.1,373.0 L1298.8,379.0 L1303.5,384.6 L1308.1,389.8 L1312.8,394.6 L1317.4,398.5 L1322.1,401.8 L1326.7,403.9 L1331.4,404.7 L1336.0,404.8 L1340.7,403.4 L1345.3,400.9 L1350.0,397.7 L1354.6,393.2 L1359.3,389.0 L1363.9,384.8 L1368.6,381.0 L1373.2,378.0 L1377.9,375.4 L1382.5,373.0 L1387.2,370.6 L1391.8,368.0 L1396.5,365.5 L1401.2,363.1 L1405.8,360.8 L1410.5,358.6 L1415.1,356.5 L1419.8,354.7 L1424.4,353.1 L1429.1,351.6 L1433.7,350.3 L1438.4,349.0 L1443.0,347.7 L1447.7,346.5 L1452.3,345.2 L1457.0,344.1 L1461.6,343.1 L1466.3,342.1 L1470.9,341.3 L1475.6,340.5 L1480.2,339.7 L1484.9,339.0 L1489.6,338.2 L1494.2,337.5 L1498.9,336.8 L1503.5,336.2 L1508.2,335.5 L1512.8,335.0 L1517.5,334.4 L1522.1,333.9 L1526.8,333.5 L1531.4,333.1 L1536.1,332.6 L1540.7,332.3 L1545.4,331.9 L1550.0,331.6 L1554.7,331.3 L1559.3,331.0 L1564.0,330.7 L1568.6,330.5 L1573.3,330.3 L1578.0,330.1 L1582.6,329.9 L1587.3,329.7 L1591.9,329.6 L1596.6,329.4 L1601.2,329.3 L1605.9,329.1 L1610.5,329.0 L1615.2,328.9 L1619.8,328.8 L1624.5,328.7 L1629.1,328.6 L1633.8,328.5 L1638.4,328.4 L1643.1,328.3 L1647.7,328.3 L1652.4,328.2 L1657.0,328.1 L1661.7,328.1 L1666.3,328.1 L1671.0,328.0 L1675.7,328.0 L1680.3,328.0 L1685.0,327.9 L1689.6,327.9 L1694.3,327.9 L1698.9,327.9 L1703.6,327.8 L1708.2,327.8 L1712.9,327.8 L1717.5,327.8 L1722.2,327.8 L1726.8,327.8 L1731.5,327.7 L1736.1,327.7 L1740.8,327.7 L1745.4,327.7 L1750.1,327.7 L1754.7,327.7 L1759.4,327.7" fill="none" stroke="#3ad6c8" stroke-width="4.6" stroke-dasharray="1.5 5.5" stroke-linejoin="miter"/>
<path d="M1056.2,327.7 L1091.8,347.4 L1127.5,367.1 L1163.1,386.8 L1198.7,406.5 L1234.3,426.2 L1270.0,445.8 L1305.6,465.5 L1309.4,458.5 L1313.2,451.7 L1317.0,445.1 L1320.9,438.6 L1324.7,431.9 L1328.5,424.9 L1332.3,417.8 L1336.1,410.7 L1339.9,403.6 L1343.7,396.4 L1347.5,389.9 L1351.4,384.2 L1355.2,379.0 L1359.0,374.4 L1362.8,370.3 L1366.6,366.5 L1370.4,363.2 L1374.2,360.2 L1378.1,357.5 L1381.9,355.0 L1385.7,352.8 L1389.5,350.8 L1393.3,349.0 L1397.1,347.3 L1400.9,345.8 L1404.8,344.3 L1408.6,342.8 L1412.4,341.4 L1416.2,340.1 L1420.0,339.1 L1423.8,338.1 L1427.6,337.3 L1431.4,336.5 L1435.3,335.8 L1439.1,335.2 L1442.9,334.6 L1446.7,334.0 L1450.5,333.5 L1454.3,333.0 L1458.1,332.6 L1462.0,332.2 L1465.8,331.8 L1469.6,331.4 L1473.4,331.0 L1477.2,330.7 L1481.0,330.4 L1484.8,330.2 L1488.6,330.0 L1492.5,329.8 L1496.3,329.6 L1500.1,329.5 L1503.9,329.3 L1507.7,329.2 L1511.5,329.0 L1515.3,328.9 L1519.2,328.8 L1523.0,328.7 L1526.8,328.6 L1530.6,328.5 L1534.4,328.5 L1538.2,328.4 L1542.0,328.3 L1545.8,328.3 L1549.7,328.2 L1553.5,328.2 L1557.3,328.1 L1561.1,328.1 L1564.9,328.1 L1568.7,328.0 L1572.5,328.0 L1576.4,328.0 L1580.2,327.9 L1584.0,327.9 L1587.8,327.9 L1591.6,327.9 L1595.4,327.9 L1599.2,327.8 L1603.0,327.8 L1606.9,327.8 L1610.7,327.8 L1614.5,327.8 L1618.3,327.7 L1622.1,327.7 L1625.9,327.7 L1629.7,327.7 L1633.6,327.7 L1637.4,327.7 L1641.2,327.7 L1645.0,327.7 L1648.8,327.7 L1652.6,327.7 L1656.4,327.7 L1660.3,327.7 L1664.1,327.7 L1667.9,327.7 L1671.7,327.7 L1675.5,327.7 L1679.3,327.7 L1683.1,327.7 L1686.9,327.7 L1690.8,327.7 L1694.6,327.7 L1698.4,327.7 L1702.2,327.7 L1706.0,327.7 L1709.8,327.7 L1713.6,327.7 L1717.5,327.7 L1721.3,327.7 L1725.1,327.7 L1728.9,327.7 L1732.7,327.7 L1736.5,327.7 L1740.3,327.7 L1744.1,327.7 L1748.0,327.7 L1751.8,327.7 L1755.6,327.7 L1759.4,327.7" fill="none" stroke="#bf00bf" stroke-width="3.6" stroke-linejoin="miter"/>
<path d="M1056.2,327.7 L1077.6,315.7 L1098.9,303.7 L1120.3,291.8 L1141.7,279.8 L1163.0,267.8 L1184.4,255.8 L1205.7,243.9 L1210.4,247.6 L1215.1,251.3 L1219.7,254.9 L1224.4,258.3 L1229.0,261.6 L1233.7,264.9 L1238.3,268.3 L1243.0,271.5 L1247.6,274.9 L1252.3,278.5 L1256.9,282.6 L1261.6,287.3 L1266.2,292.5 L1270.9,298.3 L1275.5,304.9 L1280.2,312.2 L1284.8,320.1 L1289.5,328.7 L1294.1,338.1 L1298.8,348.4 L1303.5,358.8 L1308.1,369.6 L1312.8,378.9 L1317.4,386.2 L1322.1,392.1 L1326.7,396.5 L1331.4,400.1 L1336.0,402.6 L1340.7,403.8 L1345.3,404.4 L1350.0,403.8 L1354.6,402.7 L1359.3,401.2 L1363.9,398.9 L1368.6,396.2 L1373.2,393.8 L1377.9,391.4 L1382.5,388.8 L1387.2,386.0 L1391.8,382.8 L1396.5,379.1 L1401.2,375.8 L1405.8,372.8 L1410.5,369.9 L1415.1,367.3 L1419.8,364.9 L1424.4,362.8 L1429.1,360.9 L1433.7,359.1 L1438.4,357.4 L1443.0,355.7 L1447.7,353.9 L1452.3,352.2 L1457.0,350.6 L1461.6,349.2 L1466.3,348.1 L1470.9,347.0 L1475.6,346.1 L1480.2,345.1 L1484.9,344.2 L1489.6,343.2 L1494.2,342.2 L1498.9,341.2 L1503.5,340.2 L1508.2,339.3 L1512.8,338.4 L1517.5,337.7 L1522.1,337.0 L1526.8,336.4 L1531.4,335.8 L1536.1,335.3 L1540.7,334.9 L1545.4,334.4 L1550.0,334.0 L1554.7,333.6 L1559.3,333.2 L1564.0,332.9 L1568.6,332.5 L1573.3,332.2 L1578.0,331.8 L1582.6,331.5 L1587.3,331.3 L1591.9,331.0 L1596.6,330.7 L1601.2,330.5 L1605.9,330.3 L1610.5,330.2 L1615.2,330.0 L1619.8,329.8 L1624.5,329.7 L1629.1,329.6 L1633.8,329.5 L1638.4,329.3 L1643.1,329.2 L1647.7,329.1 L1652.4,329.0 L1657.0,328.9 L1661.7,328.8 L1666.3,328.7 L1671.0,328.6 L1675.7,328.5 L1680.3,328.5 L1685.0,328.4 L1689.6,328.3 L1694.3,328.2 L1698.9,328.2 L1703.6,328.1 L1708.2,328.1 L1712.9,328.0 L1717.5,328.0 L1722.2,327.9 L1726.8,327.9 L1731.5,327.9 L1736.1,327.8 L1740.8,327.8 L1745.4,327.8 L1750.1,327.7 L1754.7,327.7 L1759.4,327.7" fill="none" stroke="#a2142f" stroke-width="5" stroke-dasharray="10 5.6 1.4 5.6" stroke-linejoin="miter"/>
</g>
<path d="M1056.2,51.3h0 M1056.8,51.3h0 M1057.4,51.3h0 M1058.0,51.3h0 M1058.6,51.3h0 M1059.2,51.3h0 M1059.8,51.3h0 M1060.4,51.3h0 M1061.0,51.3h0 M1061.6,51.3h0 M1062.2,51.4h0 M1082.2,52.4h0 M1084.6,52.6h0 M1086.8,52.8h0 M1088.9,53.1h0 M1091.0,53.3h0 M1093.0,53.5h0 M1095.2,53.8h0 M1097.4,54.0h0 M1202.9,72.1h0 M1203.9,72.2h0 M1204.9,72.3h0 M1205.9,72.4h0 M1206.9,72.5h0 M1207.9,72.6h0 M1208.9,72.7h0 M1209.9,72.8h0 M1210.9,72.9h0 M1256.0,73.9h0 M1257.0,73.9h0 M1258.0,73.8h0 M1259.0,73.8h0 M1260.0,73.7h0 M1261.0,73.6h0 M1262.0,73.6h0 M1263.0,73.5h0 M1264.0,73.4h0 M1266.2,73.2h0 M1268.4,73.0h0 M1270.5,72.8h0 M1272.6,72.6h0 M1274.7,72.4h0 M1276.7,72.2h0 M1278.7,71.9h0 M1280.7,71.7h0 M1282.7,71.5h0 M1284.6,71.2h0 M1286.5,70.9h0 M1288.4,70.7h0 M1290.2,70.4h0 M1292.0,70.1h0 M1293.8,69.9h0 M1295.6,69.6h0 M1297.3,69.3h0 M1299.0,69.0h0 M1300.7,68.7h0 M1302.3,68.5h0 M1304.0,68.2h0 M1305.6,67.9h0 M1306.4,67.8h0 M1307.2,67.6h0 M1308.0,67.5h0 M1308.8,67.3h0 M1309.6,67.2h0 M1310.4,67.0h0 M1311.2,66.9h0 M1312.0,66.7h0 M1312.8,66.6h0 M1313.6,66.4h0 M1314.4,66.3h0 M1315.2,66.1h0 M1316.0,66.0h0 M1316.8,65.8h0 M1317.6,65.7h0 M1318.4,65.5h0 M1319.2,65.4h0 M1320.0,65.2h0 M1320.8,65.1h0 M1321.6,64.9h0 M1322.4,64.8h0 M1323.2,64.6h0 M1324.0,64.5h0 M1324.8,64.3h0 M1325.6,64.1h0 M1326.4,64.0h0 M1327.2,63.8h0 M1328.0,63.7h0 M1328.8,63.5h0 M1329.6,63.4h0 M1330.4,63.2h0 M1331.2,63.0h0 M1332.0,62.9h0 M1332.8,62.7h0 M1333.6,62.6h0 M1334.4,62.4h0 M1335.2,62.3h0 M1336.0,62.1h0 M1336.8,61.9h0 M1337.6,61.8h0 M1338.4,61.6h0 M1339.2,61.5h0 M1340.0,61.3h0 M1340.8,61.2h0 M1341.6,61.0h0 M1342.4,60.9h0 M1343.2,60.7h0 M1344.0,60.5h0 M1344.8,60.4h0 M1345.6,60.2h0 M1346.4,60.1h0 M1347.2,59.9h0 M1348.0,59.8h0 M1348.8,59.6h0 M1349.6,59.5h0 M1350.4,59.3h0 M1351.2,59.2h0 M1352.0,59.0h0 M1352.8,58.9h0 M1353.6,58.7h0 M1354.4,58.6h0 M1355.2,58.4h0 M1356.0,58.3h0 M1356.8,58.2h0 M1357.6,58.0h0 M1358.4,57.9h0 M1359.2,57.7h0 M1360.0,57.6h0 M1360.8,57.4h0 M1361.6,57.3h0 M1362.4,57.2h0 M1363.2,57.0h0 M1364.0,56.9h0 M1364.8,56.8h0 M1365.6,56.6h0 M1366.4,56.5h0 M1367.2,56.4h0 M1368.0,56.2h0 M1368.8,56.1h0 M1369.6,56.0h0 M1370.4,55.9h0 M1371.2,55.7h0 M1372.0,55.6h0 M1372.8,55.5h0 M1373.6,55.4h0 M1374.4,55.2h0 M1375.2,55.1h0 M1376.0,55.0h0 M1376.8,54.9h0 M1377.6,54.8h0 M1378.4,54.7h0 M1379.2,54.6h0 M1380.0,54.5h0 M1380.8,54.3h0 M1381.6,54.2h0 M1382.4,54.1h0 M1383.2,54.0h0 M1384.0,53.9h0 M1384.8,53.8h0 M1385.6,53.7h0 M1386.4,53.6h0 M1387.2,53.5h0 M1388.0,53.5h0 M1388.8,53.4h0 M1389.6,53.3h0 M1390.4,53.2h0 M1391.2,53.1h0 M1392.0,53.0h0 M1392.8,52.9h0 M1393.6,52.9h0 M1394.4,52.8h0 M1395.2,52.7h0 M1396.0,52.6h0 M1396.8,52.6h0 M1397.6,52.5h0 M1398.4,52.4h0 M1399.2,52.3h0 M1400.0,52.3h0 M1400.8,52.2h0 M1401.6,52.2h0 M1402.4,52.1h0 M1403.2,52.0h0 M1404.0,52.0h0 M1404.8,51.9h0 M1405.6,51.9h0 M1406.4,51.8h0 M1407.2,51.8h0 M1408.0,51.7h0 M1408.8,51.7h0 M1409.6,51.7h0 M1410.4,51.6h0 M1411.2,51.6h0 M1412.0,51.6h0 M1412.8,51.5h0 M1413.6,51.5h0 M1414.4,51.5h0 M1415.2,51.4h0 M1416.0,51.4h0 M1416.8,51.4h0 M1417.6,51.4h0 M1418.4,51.4h0 M1419.2,51.3h0 M1420.0,51.3h0 M1422.2,51.3h0 M1424.5,51.3h0 M1426.8,51.3h0 M1429.2,51.3h0" stroke="#000" stroke-width="2.6" stroke-linecap="round" fill="none"/>
<path d="M1064.2,51.4h0 M1067.2,51.5h0 M1070.2,51.6h0 M1073.2,51.8h0 M1076.2,52.0h0 M1079.2,52.2h0 M1099.8,54.3h0 M1102.4,54.7h0 M1105.2,55.1h0 M1112.2,56.2h0 M1119.2,57.3h0 M1126.2,58.6h0 M1133.2,59.9h0 M1140.2,61.2h0 M1147.2,62.6h0 M1154.2,64.0h0 M1161.2,65.3h0 M1168.2,66.7h0 M1172.6,67.5h0 M1177.0,68.2h0 M1181.4,69.0h0 M1185.8,69.7h0 M1190.1,70.4h0 M1194.4,71.0h0 M1198.6,71.5h0 M1211.9,73.0h0 M1215.1,73.3h0 M1218.4,73.5h0 M1221.7,73.8h0 M1224.9,73.9h0 M1228.1,74.1h0 M1231.3,74.2h0 M1234.5,74.3h0 M1237.6,74.3h0 M1240.7,74.3h0 M1243.8,74.3h0 M1246.9,74.3h0 M1250.0,74.2h0 M1253.0,74.1h0 M1431.7,51.4h0 M1434.2,51.5h0 M1436.8,51.6h0 M1439.5,51.7h0 M1442.3,51.8h0 M1445.1,52.0h0 M1448.0,52.2h0 M1451.1,52.5h0 M1454.2,52.8h0 M1457.3,53.1h0 M1460.6,53.4h0 M1464.0,53.8h0 M1467.5,54.3h0 M1471.1,54.8h0 M1474.9,55.3h0 M1478.7,55.9h0 M1482.7,56.6h0 M1486.8,57.2h0 M1491.1,58.0h0 M1495.5,58.8h0 M1500.0,59.6h0 M1504.7,60.5h0 M1509.5,61.5h0 M1514.5,62.4h0 M1519.7,63.5h0 M1525.0,64.5h0 M1530.5,65.6h0 M1536.1,66.6h0 M1541.8,67.6h0 M1547.6,68.7h0 M1553.5,69.6h0 M1559.5,70.5h0 M1565.6,71.4h0 M1571.7,72.1h0 M1578.0,72.8h0 M1584.4,73.4h0 M1591.0,73.8h0 M1597.6,74.1h0 M1604.3,74.3h0 M1611.2,74.3h0 M1618.2,74.2h0 M1625.2,73.9h0 M1632.5,73.4h0 M1639.8,72.7h0 M1647.2,71.9h0 M1654.9,70.9h0 M1662.9,69.7h0 M1671.1,68.4h0 M1679.6,66.8h0 M1688.5,65.2h0 M1697.6,63.4h0 M1707.1,61.5h0 M1716.9,59.6h0 M1726.5,57.9h0 M1735.3,56.4h0 M1743.4,55.1h0 M1750.7,54.1h0 M1757.5,53.3h0 M1759.4,53.1h0" stroke="#000" stroke-width="3.0" stroke-linecap="round" fill="none"/>
<path d="M1056.2,604.1h0 M1056.8,604.1h0 M1057.4,604.1h0 M1058.0,604.1h0 M1058.6,604.1h0 M1059.2,604.1h0 M1059.8,604.1h0 M1060.4,604.1h0 M1061.0,604.1h0 M1061.6,604.1h0 M1062.2,604.0h0 M1082.2,603.0h0 M1084.6,602.8h0 M1086.8,602.6h0 M1088.9,602.3h0 M1091.0,602.1h0 M1093.0,601.9h0 M1095.2,601.6h0 M1097.4,601.4h0 M1202.9,583.3h0 M1203.9,583.2h0 M1204.9,583.1h0 M1205.9,583.0h0 M1206.9,582.9h0 M1207.9,582.8h0 M1208.9,582.7h0 M1209.9,582.6h0 M1210.9,582.5h0 M1256.0,581.5h0 M1257.0,581.5h0 M1258.0,581.6h0 M1259.0,581.6h0 M1260.0,581.7h0 M1261.0,581.8h0 M1262.0,581.8h0 M1263.0,581.9h0 M1264.0,582.0h0 M1266.2,582.2h0 M1268.4,582.4h0 M1270.5,582.6h0 M1272.6,582.8h0 M1274.7,583.0h0 M1276.7,583.2h0 M1278.7,583.5h0 M1280.7,583.7h0 M1282.7,583.9h0 M1284.6,584.2h0 M1286.5,584.5h0 M1288.4,584.7h0 M1290.2,585.0h0 M1292.0,585.3h0 M1293.8,585.5h0 M1295.6,585.8h0 M1297.3,586.1h0 M1299.0,586.4h0 M1300.7,586.7h0 M1302.3,586.9h0 M1304.0,587.2h0 M1305.6,587.5h0 M1306.4,587.6h0 M1307.2,587.8h0 M1308.0,587.9h0 M1308.8,588.1h0 M1309.6,588.2h0 M1310.4,588.4h0 M1311.2,588.5h0 M1312.0,588.7h0 M1312.8,588.8h0 M1313.6,589.0h0 M1314.4,589.1h0 M1315.2,589.3h0 M1316.0,589.4h0 M1316.8,589.6h0 M1317.6,589.7h0 M1318.4,589.9h0 M1319.2,590.0h0 M1320.0,590.2h0 M1320.8,590.3h0 M1321.6,590.5h0 M1322.4,590.6h0 M1323.2,590.8h0 M1324.0,590.9h0 M1324.8,591.1h0 M1325.6,591.3h0 M1326.4,591.4h0 M1327.2,591.6h0 M1328.0,591.7h0 M1328.8,591.9h0 M1329.6,592.0h0 M1330.4,592.2h0 M1331.2,592.4h0 M1332.0,592.5h0 M1332.8,592.7h0 M1333.6,592.8h0 M1334.4,593.0h0 M1335.2,593.1h0 M1336.0,593.3h0 M1336.8,593.5h0 M1337.6,593.6h0 M1338.4,593.8h0 M1339.2,593.9h0 M1340.0,594.1h0 M1340.8,594.2h0 M1341.6,594.4h0 M1342.4,594.5h0 M1343.2,594.7h0 M1344.0,594.9h0 M1344.8,595.0h0 M1345.6,595.2h0 M1346.4,595.3h0 M1347.2,595.5h0 M1348.0,595.6h0 M1348.8,595.8h0 M1349.6,595.9h0 M1350.4,596.1h0 M1351.2,596.2h0 M1352.0,596.4h0 M1352.8,596.5h0 M1353.6,596.7h0 M1354.4,596.8h0 M1355.2,597.0h0 M1356.0,597.1h0 M1356.8,597.2h0 M1357.6,597.4h0 M1358.4,597.5h0 M1359.2,597.7h0 M1360.0,597.8h0 M1360.8,598.0h0 M1361.6,598.1h0 M1362.4,598.2h0 M1363.2,598.4h0 M1364.0,598.5h0 M1364.8,598.6h0 M1365.6,598.8h0 M1366.4,598.9h0 M1367.2,599.0h0 M1368.0,599.2h0 M1368.8,599.3h0 M1369.6,599.4h0 M1370.4,599.5h0 M1371.2,599.7h0 M1372.0,599.8h0 M1372.8,599.9h0 M1373.6,600.0h0 M1374.4,600.2h0 M1375.2,600.3h0 M1376.0,600.4h0 M1376.8,600.5h0 M1377.6,600.6h0 M1378.4,600.7h0 M1379.2,600.8h0 M1380.0,600.9h0 M1380.8,601.1h0 M1381.6,601.2h0 M1382.4,601.3h0 M1383.2,601.4h0 M1384.0,601.5h0 M1384.8,601.6h0 M1385.6,601.7h0 M1386.4,601.8h0 M1387.2,601.9h0 M1388.0,601.9h0 M1388.8,602.0h0 M1389.6,602.1h0 M1390.4,602.2h0 M1391.2,602.3h0 M1392.0,602.4h0 M1392.8,602.5h0 M1393.6,602.5h0 M1394.4,602.6h0 M1395.2,602.7h0 M1396.0,602.8h0 M1396.8,602.8h0 M1397.6,602.9h0 M1398.4,603.0h0 M1399.2,603.1h0 M1400.0,603.1h0 M1400.8,603.2h0 M1401.6,603.2h0 M1402.4,603.3h0 M1403.2,603.4h0 M1404.0,603.4h0 M1404.8,603.5h0 M1405.6,603.5h0 M1406.4,603.6h0 M1407.2,603.6h0 M1408.0,603.7h0 M1408.8,603.7h0 M1409.6,603.7h0 M1410.4,603.8h0 M1411.2,603.8h0 M1412.0,603.8h0 M1412.8,603.9h0 M1413.6,603.9h0 M1414.4,603.9h0 M1415.2,604.0h0 M1416.0,604.0h0 M1416.8,604.0h0 M1417.6,604.0h0 M1418.4,604.0h0 M1419.2,604.1h0 M1420.0,604.1h0 M1422.2,604.1h0 M1424.5,604.1h0 M1426.8,604.1h0 M1429.2,604.1h0" stroke="#000" stroke-width="2.6" stroke-linecap="round" fill="none"/>
<path d="M1064.2,604.0h0 M1067.2,603.9h0 M1070.2,603.8h0 M1073.2,603.6h0 M1076.2,603.4h0 M1079.2,603.2h0 M1099.8,601.1h0 M1102.4,600.7h0 M1105.2,600.3h0 M1112.2,599.2h0 M1119.2,598.1h0 M1126.2,596.8h0 M1133.2,595.5h0 M1140.2,594.2h0 M1147.2,592.8h0 M1154.2,591.4h0 M1161.2,590.1h0 M1168.2,588.7h0 M1172.6,587.9h0 M1177.0,587.2h0 M1181.4,586.4h0 M1185.8,585.7h0 M1190.1,585.0h0 M1194.4,584.4h0 M1198.6,583.9h0 M1211.9,582.4h0 M1215.1,582.1h0 M1218.4,581.9h0 M1221.7,581.6h0 M1224.9,581.5h0 M1228.1,581.3h0 M1231.3,581.2h0 M1234.5,581.1h0 M1237.6,581.1h0 M1240.7,581.1h0 M1243.8,581.1h0 M1246.9,581.1h0 M1250.0,581.2h0 M1253.0,581.3h0 M1431.7,604.0h0 M1434.2,603.9h0 M1436.8,603.8h0 M1439.5,603.7h0 M1442.3,603.6h0 M1445.1,603.4h0 M1448.0,603.2h0 M1451.1,602.9h0 M1454.2,602.6h0 M1457.3,602.3h0 M1460.6,602.0h0 M1464.0,601.6h0 M1467.5,601.1h0 M1471.1,600.6h0 M1474.9,600.1h0 M1478.7,599.5h0 M1482.7,598.8h0 M1486.8,598.2h0 M1491.1,597.4h0 M1495.5,596.6h0 M1500.0,595.8h0 M1504.7,594.9h0 M1509.5,593.9h0 M1514.5,593.0h0 M1519.7,591.9h0 M1525.0,590.9h0 M1530.5,589.8h0 M1536.1,588.8h0 M1541.8,587.8h0 M1547.6,586.7h0 M1553.5,585.8h0 M1559.5,584.9h0 M1565.6,584.0h0 M1571.7,583.3h0 M1578.0,582.6h0 M1584.4,582.0h0 M1591.0,581.6h0 M1597.6,581.3h0 M1604.3,581.1h0 M1611.2,581.1h0 M1618.2,581.2h0 M1625.2,581.5h0 M1632.5,582.0h0 M1639.8,582.7h0 M1647.2,583.5h0 M1654.9,584.5h0 M1662.9,585.7h0 M1671.1,587.0h0 M1679.6,588.6h0 M1688.5,590.2h0 M1697.6,592.0h0 M1707.1,593.9h0 M1716.9,595.8h0 M1726.5,597.5h0 M1735.3,599.0h0 M1743.4,600.3h0 M1750.7,601.3h0 M1757.5,602.1h0 M1759.4,602.3h0" stroke="#000" stroke-width="3.0" stroke-linecap="round" fill="none"/>
<path d="M1056.2,604.1 v-7 M1056.2,51.3 v7 M1173.4,604.1 v-7 M1173.4,51.3 v7 M1290.6,604.1 v-7 M1290.6,51.3 v7 M1407.8,604.1 v-7 M1407.8,51.3 v7 M1525.0,604.1 v-7 M1525.0,51.3 v7 M1642.2,604.1 v-7 M1642.2,51.3 v7 M1759.4,604.1 v-7 M1759.4,51.3 v7 M1056.2,604.1 h7 M1759.4,604.1 h-7 M1056.2,512.0 h7 M1759.4,512.0 h-7 M1056.2,419.8 h7 M1759.4,419.8 h-7 M1056.2,327.7 h7 M1759.4,327.7 h-7 M1056.2,235.6 h7 M1759.4,235.6 h-7 M1056.2,143.4 h7 M1759.4,143.4 h-7 M1056.2,51.3 h7 M1759.4,51.3 h-7" stroke="#000" stroke-width="1.2" fill="none"/>
<rect x="1056.2" y="51.3" width="703.2" height="552.8" fill="none" stroke="#1a1a1a" stroke-width="1.6"/>
<g font-family="Liberation Sans, sans-serif" font-size="30" fill="#000">
<text x="1056.2" y="637.7" text-anchor="middle">0</text>
<text x="1173.4" y="637.7" text-anchor="middle">0.5</text>
<text x="1290.6" y="637.7" text-anchor="middle">1</text>
<text x="1407.8" y="637.7" text-anchor="middle">1.5</text>
<text x="1525.0" y="637.7" text-anchor="middle">2</text>
<text x="1642.2" y="637.7" text-anchor="middle">2.5</text>
<text x="1759.4" y="637.7" text-anchor="middle">3</text>
<text x="1051.4" y="615.7" text-anchor="end">−3</text>
<text x="1051.4" y="523.6" text-anchor="end">−2</text>
<text x="1051.4" y="431.4" text-anchor="end">−1</text>
<text x="1051.4" y="339.3" text-anchor="end">0</text>
<text x="1051.4" y="247.2" text-anchor="end">1</text>
<text x="1051.4" y="155.0" text-anchor="end">2</text>
<text x="1051.4" y="62.9" text-anchor="end">3</text>
</g>
<g clip-path="url(#clipC)">
<path d="M115.6,1267.4 L117.9,1267.4 L120.3,1267.4 L122.6,1267.3 L125.0,1267.3 L127.3,1267.2 L129.7,1267.2 L132.0,1267.1 L134.4,1267.0 L136.7,1266.9 L139.1,1266.8 L141.4,1266.6 L143.8,1266.5 L146.1,1266.3 L148.4,1266.1 L150.8,1265.9 L153.1,1265.7 L155.5,1265.4 L157.8,1265.2 L160.2,1264.9 L162.5,1264.6 L164.9,1264.2 L167.2,1263.9 L169.6,1263.5 L171.9,1263.1 L174.2,1262.6 L176.6,1262.2 L178.9,1261.7 L181.3,1261.2 L183.6,1260.7 L186.0,1260.1 L188.3,1259.5 L190.7,1259.0 L193.0,1258.3 L195.4,1257.7 L197.7,1257.0 L200.1,1256.3 L202.4,1255.6 L204.7,1254.9 L207.1,1254.1 L209.4,1253.3 L211.8,1252.5 L214.1,1251.6 L216.5,1250.7 L218.8,1249.8 L221.2,1248.8 L223.5,1247.9 L225.9,1246.9 L228.2,1245.8 L230.6,1244.8 L232.9,1243.7 L235.2,1242.5 L237.6,1241.4 L239.9,1240.2 L242.3,1238.9 L244.6,1237.7 L247.0,1236.4 L249.3,1235.0 L251.7,1233.6 L254.0,1232.2 L256.4,1230.8 L258.7,1229.3 L261.1,1227.7 L263.4,1226.2 L265.7,1224.6 L268.1,1222.9 L270.4,1221.2 L272.8,1219.5 L275.1,1217.7 L277.5,1215.9 L279.8,1214.1 L282.2,1212.2 L284.5,1210.3 L286.9,1208.4 L289.2,1206.4 L291.5,1204.4 L293.9,1202.3 L296.2,1200.2 L298.6,1198.1 L300.9,1195.9 L303.3,1193.7 L305.6,1191.5 L308.0,1189.3 L310.3,1187.0 L312.7,1184.6 L315.0,1182.3 L317.4,1179.9 L319.7,1177.5 L322.0,1175.1 L324.4,1172.7 L326.7,1170.2 L329.1,1167.8 L331.4,1165.4 L333.8,1163.0 L336.1,1160.6 L338.5,1158.2 L340.8,1155.8 L343.2,1153.4 L345.5,1151.0 L347.9,1148.6 L350.2,1146.2 L352.5,1143.8 L354.9,1141.4 L357.2,1138.9 L359.6,1136.5 L361.9,1134.1 L364.3,1131.8 L366.6,1129.4 L369.0,1127.1 L371.3,1124.8 L373.7,1122.5 L376.0,1120.3 L378.4,1118.1 L380.7,1116.0 L383.0,1113.9 L385.4,1111.8 L387.7,1109.8 L390.1,1107.9 L392.4,1106.0 L394.8,1104.2 L397.1,1102.4 L399.5,1100.7 L401.8,1099.1 L404.2,1097.5 L406.5,1096.0 L408.9,1094.5 L411.2,1093.1 L413.5,1091.8 L415.9,1090.5 L418.2,1089.3 L420.6,1088.1 L422.9,1087.0 L425.3,1085.9 L427.6,1084.9 L430.0,1083.9 L432.3,1083.0 L434.7,1082.1 L437.0,1081.2 L439.3,1080.3 L441.7,1079.5 L444.0,1078.7 L446.4,1078.0 L448.7,1077.3 L451.1,1076.6 L453.4,1075.9 L455.8,1075.3 L458.1,1074.7 L460.5,1074.1 L462.8,1073.5 L465.2,1073.0 L467.5,1072.5 L469.8,1072.0 L472.2,1071.6 L474.5,1071.1 L476.9,1070.7 L479.2,1070.3 L481.6,1069.9 L483.9,1069.5 L486.3,1069.1 L488.6,1068.7 L491.0,1068.4 L493.3,1068.0 L495.7,1067.7 L498.0,1067.4 L500.3,1067.1 L502.7,1066.8 L505.0,1066.5 L507.4,1066.2 L509.7,1066.0 L512.1,1065.7 L514.4,1065.5 L516.8,1065.2 L519.1,1065.0 L521.5,1064.8 L523.8,1064.6 L526.1,1064.4 L528.5,1064.2 L530.8,1064.0 L533.2,1063.9 L535.5,1063.7 L537.9,1063.5 L540.2,1063.4 L542.6,1063.3 L544.9,1063.1 L547.3,1063.0 L549.6,1062.9 L552.0,1062.7 L554.3,1062.6 L556.6,1062.5 L559.0,1062.4 L561.3,1062.3 L563.7,1062.2 L566.0,1062.1 L568.4,1062.0 L570.7,1061.9 L573.1,1061.9 L575.4,1061.8 L577.8,1061.7 L580.1,1061.6 L582.5,1061.6 L584.8,1061.5 L587.1,1061.4 L589.5,1061.3 L591.8,1061.3 L594.2,1061.2 L596.5,1061.2 L598.9,1061.1 L601.2,1061.0 L603.6,1061.0 L605.9,1060.9 L608.3,1060.9 L610.6,1060.8 L613.0,1060.8 L615.3,1060.7 L617.6,1060.7 L620.0,1060.6 L622.3,1060.6 L624.7,1060.5 L627.0,1060.5 L629.4,1060.5 L631.7,1060.4 L634.1,1060.4 L636.4,1060.3 L638.8,1060.3 L641.1,1060.3 L643.4,1060.2 L645.8,1060.2 L648.1,1060.2 L650.5,1060.1 L652.8,1060.1 L655.2,1060.1 L657.5,1060.0 L659.9,1060.0 L662.2,1060.0 L664.6,1060.0 L666.9,1060.0 L669.3,1059.9 L671.6,1059.9 L673.9,1059.9 L676.3,1059.9 L678.6,1059.9 L681.0,1059.9 L683.3,1059.8 L685.7,1059.8 L688.0,1059.8 L690.4,1059.8 L692.7,1059.8 L695.1,1059.8 L697.4,1059.8 L699.8,1059.8 L702.1,1059.8 L704.4,1059.8 L706.8,1059.8 L709.1,1059.8 L711.5,1059.8 L713.8,1059.8 L716.2,1059.7 L718.5,1059.7 L720.9,1059.7 L723.2,1059.7 L725.6,1059.7 L727.9,1059.7 L730.3,1059.7 L732.6,1059.7 L734.9,1059.7 L737.3,1059.7 L739.6,1059.7 L742.0,1059.7 L744.3,1059.7 L746.7,1059.7 L749.0,1059.7 L751.4,1059.7 L753.7,1059.7 L756.1,1059.7 L758.4,1059.7 L760.8,1059.7 L763.1,1059.7 L765.4,1059.7 L767.8,1059.7 L770.1,1059.7 L772.5,1059.7 L774.8,1059.7 L777.2,1059.7 L779.5,1059.7 L781.9,1059.7 L784.2,1059.7 L786.6,1059.7 L788.9,1059.7 L791.2,1059.7 L793.6,1059.7 L795.9,1059.7 L798.3,1059.7 L800.6,1059.7 L803.0,1059.7 L805.3,1059.7 L807.7,1059.7 L810.0,1059.7 L812.4,1059.7 L814.7,1059.7 L817.1,1059.7 L819.4,1059.7" fill="none" stroke="#000" stroke-width="3.2"/>
<path d="M115.6,858.1 L117.9,858.1 L120.3,858.2 L122.6,858.4 L125.0,858.5 L127.3,858.7 L129.7,859.0 L132.0,859.2 L134.4,859.5 L136.7,859.8 L139.1,860.2 L141.4,860.6 L143.8,861.0 L146.1,861.4 L148.4,861.9 L150.8,862.4 L153.1,862.9 L155.5,863.5 L157.8,864.1 L160.2,864.7 L162.5,865.3 L164.9,866.0 L167.2,866.8 L169.6,867.5 L171.9,868.3 L174.2,869.1 L176.6,869.9 L178.9,870.8 L181.3,871.7 L183.6,872.6 L186.0,873.6 L188.3,874.6 L190.7,875.6 L193.0,876.6 L195.4,877.7 L197.7,878.8 L200.1,880.0 L202.4,881.2 L204.7,882.4 L207.1,883.6 L209.4,884.9 L211.8,886.2 L214.1,887.5 L216.5,888.9 L218.8,890.3 L221.2,891.7 L223.5,893.2 L225.9,894.7 L228.2,896.2 L230.6,897.7 L232.9,899.3 L235.2,900.9 L237.6,902.5 L239.9,904.2 L242.3,905.9 L244.6,907.6 L247.0,909.3 L249.3,911.1 L251.7,912.9 L254.0,914.8 L256.4,916.6 L258.7,918.5 L261.1,920.4 L263.4,922.4 L265.7,924.4 L268.1,926.4 L270.4,928.4 L272.8,930.5 L275.1,932.6 L277.5,934.8 L279.8,936.9 L282.2,939.1 L284.5,941.4 L286.9,943.6 L289.2,945.9 L291.5,948.2 L293.9,950.6 L296.2,953.0 L298.6,955.4 L300.9,957.8 L303.3,960.3 L305.6,962.8 L308.0,965.3 L310.3,967.9 L312.7,970.5 L315.0,973.1 L317.4,975.8 L319.7,978.4 L322.0,981.0 L324.4,983.5 L326.7,986.0 L329.1,988.4 L331.4,990.7 L333.8,992.9 L336.1,995.1 L338.5,997.2 L340.8,999.2 L343.2,1001.1 L345.5,1003.0 L347.9,1004.8 L350.2,1006.6 L352.5,1008.3 L354.9,1009.9 L357.2,1011.5 L359.6,1013.0 L361.9,1014.4 L364.3,1015.8 L366.6,1017.1 L369.0,1018.4 L371.3,1019.6 L373.7,1020.8 L376.0,1021.9 L378.4,1023.0 L380.7,1024.1 L383.0,1025.1 L385.4,1026.1 L387.7,1027.1 L390.1,1028.0 L392.4,1028.9 L394.8,1029.8 L397.1,1030.7 L399.5,1031.5 L401.8,1032.3 L404.2,1033.1 L406.5,1033.8 L408.9,1034.5 L411.2,1035.2 L413.5,1035.9 L415.9,1036.6 L418.2,1037.2 L420.6,1037.8 L422.9,1038.4 L425.3,1039.0 L427.6,1039.5 L430.0,1040.1 L432.3,1040.6 L434.7,1041.1 L437.0,1041.6 L439.3,1042.1 L441.7,1042.6 L444.0,1043.0 L446.4,1043.4 L448.7,1043.9 L451.1,1044.3 L453.4,1044.7 L455.8,1045.1 L458.1,1045.4 L460.5,1045.8 L462.8,1046.1 L465.2,1046.5 L467.5,1046.8 L469.8,1047.1 L472.2,1047.4 L474.5,1047.7 L476.9,1048.0 L479.2,1048.3 L481.6,1048.6 L483.9,1048.9 L486.3,1049.2 L488.6,1049.4 L491.0,1049.7 L493.3,1050.0 L495.7,1050.2 L498.0,1050.5 L500.3,1050.8 L502.7,1051.0 L505.0,1051.3 L507.4,1051.5 L509.7,1051.8 L512.1,1052.0 L514.4,1052.2 L516.8,1052.4 L519.1,1052.7 L521.5,1052.9 L523.8,1053.1 L526.1,1053.3 L528.5,1053.5 L530.8,1053.7 L533.2,1053.9 L535.5,1054.1 L537.9,1054.2 L540.2,1054.4 L542.6,1054.6 L544.9,1054.7 L547.3,1054.9 L549.6,1055.0 L552.0,1055.2 L554.3,1055.3 L556.6,1055.5 L559.0,1055.6 L561.3,1055.7 L563.7,1055.9 L566.0,1056.0 L568.4,1056.1 L570.7,1056.2 L573.1,1056.3 L575.4,1056.4 L577.8,1056.6 L580.1,1056.7 L582.5,1056.8 L584.8,1056.9 L587.1,1057.0 L589.5,1057.0 L591.8,1057.1 L594.2,1057.2 L596.5,1057.3 L598.9,1057.4 L601.2,1057.5 L603.6,1057.5 L605.9,1057.6 L608.3,1057.7 L610.6,1057.8 L613.0,1057.8 L615.3,1057.9 L617.6,1057.9 L620.0,1058.0 L622.3,1058.1 L624.7,1058.1 L627.0,1058.2 L629.4,1058.2 L631.7,1058.3 L634.1,1058.3 L636.4,1058.4 L638.8,1058.4 L641.1,1058.5 L643.4,1058.5 L645.8,1058.6 L648.1,1058.6 L650.5,1058.7 L652.8,1058.7 L655.2,1058.7 L657.5,1058.8 L659.9,1058.8 L662.2,1058.9 L664.6,1058.9 L666.9,1058.9 L669.3,1058.9 L671.6,1059.0 L673.9,1059.0 L676.3,1059.0 L678.6,1059.1 L681.0,1059.1 L683.3,1059.1 L685.7,1059.1 L688.0,1059.2 L690.4,1059.2 L692.7,1059.2 L695.1,1059.2 L697.4,1059.2 L699.8,1059.2 L702.1,1059.3 L704.4,1059.3 L706.8,1059.3 L709.1,1059.3 L711.5,1059.3 L713.8,1059.3 L716.2,1059.4 L718.5,1059.4 L720.9,1059.4 L723.2,1059.4 L725.6,1059.4 L727.9,1059.4 L730.3,1059.4 L732.6,1059.4 L734.9,1059.4 L737.3,1059.5 L739.6,1059.5 L742.0,1059.5 L744.3,1059.5 L746.7,1059.5 L749.0,1059.5 L751.4,1059.5 L753.7,1059.5 L756.1,1059.5 L758.4,1059.5 L760.8,1059.5 L763.1,1059.5 L765.4,1059.5 L767.8,1059.6 L770.1,1059.6 L772.5,1059.6 L774.8,1059.6 L777.2,1059.6 L779.5,1059.6 L781.9,1059.6 L784.2,1059.6 L786.6,1059.6 L788.9,1059.6 L791.2,1059.6 L793.6,1059.6 L795.9,1059.6 L798.3,1059.6 L800.6,1059.6 L803.0,1059.6 L805.3,1059.6 L807.7,1059.6 L810.0,1059.6 L812.4,1059.6 L814.7,1059.6 L817.1,1059.6 L819.4,1059.6" fill="none" stroke="#007f00" stroke-width="5" stroke-dasharray="9.7 8.8"/>
<path d="M115.6,1196.6 L117.9,1196.5 L120.3,1196.4 L122.6,1196.2 L125.0,1196.0 L127.3,1195.8 L129.7,1195.5 L132.0,1195.2 L134.4,1194.9 L136.7,1194.5 L139.1,1194.1 L141.4,1193.7 L143.8,1193.3 L146.1,1192.9 L148.4,1192.4 L150.8,1191.9 L153.1,1191.4 L155.5,1190.9 L157.8,1190.4 L160.2,1189.9 L162.5,1189.3 L164.9,1188.7 L167.2,1188.2 L169.6,1187.6 L171.9,1187.0 L174.2,1186.4 L176.6,1185.8 L178.9,1185.2 L181.3,1184.6 L183.6,1183.9 L186.0,1183.3 L188.3,1182.7 L190.7,1182.0 L193.0,1181.4 L195.4,1180.8 L197.7,1180.1 L200.1,1179.5 L202.4,1178.9 L204.7,1178.2 L207.1,1177.6 L209.4,1177.0 L211.8,1176.3 L214.1,1175.7 L216.5,1175.0 L218.8,1174.4 L221.2,1173.7 L223.5,1173.1 L225.9,1172.5 L228.2,1171.8 L230.6,1171.1 L232.9,1170.5 L235.2,1169.8 L237.6,1169.2 L239.9,1168.5 L242.3,1167.8 L244.6,1167.1 L247.0,1166.4 L249.3,1165.8 L251.7,1165.1 L254.0,1164.4 L256.4,1163.7 L258.7,1162.9 L261.1,1162.2 L263.4,1161.5 L265.7,1160.8 L268.1,1160.1 L270.4,1159.5 L272.8,1158.8 L275.1,1158.1 L277.5,1157.5 L279.8,1156.8 L282.2,1156.2 L284.5,1155.5 L286.9,1154.9 L289.2,1154.2 L291.5,1153.6 L293.9,1153.0 L296.2,1152.4 L298.6,1151.7 L300.9,1151.1 L303.3,1150.5 L305.6,1149.9 L308.0,1149.3 L310.3,1148.7 L312.7,1148.1 L315.0,1147.5 L317.4,1146.9 L319.7,1146.3 L322.0,1145.7 L324.4,1145.1 L326.7,1144.6 L329.1,1144.0 L331.4,1143.5 L333.8,1143.0 L336.1,1142.5 L338.5,1142.1 L340.8,1141.6 L343.2,1141.2 L345.5,1140.8 L347.9,1140.4 L350.2,1139.9 L352.5,1139.4 L354.9,1138.9 L357.2,1138.3 L359.6,1137.8 L361.9,1137.1 L364.3,1136.5 L366.6,1135.8 L369.0,1135.1 L371.3,1134.4 L373.7,1133.6 L376.0,1132.8 L378.4,1132.0 L380.7,1131.1 L383.0,1130.2 L385.4,1129.2 L387.7,1128.3 L390.1,1127.2 L392.4,1126.2 L394.8,1125.1 L397.1,1124.0 L399.5,1122.9 L401.8,1121.8 L404.2,1120.6 L406.5,1119.4 L408.9,1118.2 L411.2,1117.0 L413.5,1115.8 L415.9,1114.6 L418.2,1113.5 L420.6,1112.3 L422.9,1111.1 L425.3,1110.0 L427.6,1108.8 L430.0,1107.7 L432.3,1106.6 L434.7,1105.5 L437.0,1104.4 L439.3,1103.3 L441.7,1102.2 L444.0,1101.2 L446.4,1100.1 L448.7,1099.1 L451.1,1098.1 L453.4,1097.1 L455.8,1096.2 L458.1,1095.2 L460.5,1094.2 L462.8,1093.3 L465.2,1092.4 L467.5,1091.5 L469.8,1090.6 L472.2,1089.8 L474.5,1088.9 L476.9,1088.1 L479.2,1087.3 L481.6,1086.5 L483.9,1085.7 L486.3,1085.0 L488.6,1084.3 L491.0,1083.6 L493.3,1082.9 L495.7,1082.2 L498.0,1081.6 L500.3,1080.9 L502.7,1080.3 L505.0,1079.7 L507.4,1079.1 L509.7,1078.6 L512.1,1078.0 L514.4,1077.5 L516.8,1076.9 L519.1,1076.4 L521.5,1075.9 L523.8,1075.4 L526.1,1075.0 L528.5,1074.5 L530.8,1074.1 L533.2,1073.6 L535.5,1073.2 L537.9,1072.8 L540.2,1072.4 L542.6,1072.0 L544.9,1071.7 L547.3,1071.3 L549.6,1071.0 L552.0,1070.6 L554.3,1070.3 L556.6,1070.0 L559.0,1069.7 L561.3,1069.4 L563.7,1069.1 L566.0,1068.8 L568.4,1068.6 L570.7,1068.3 L573.1,1068.0 L575.4,1067.8 L577.8,1067.6 L580.1,1067.3 L582.5,1067.1 L584.8,1066.9 L587.1,1066.7 L589.5,1066.5 L591.8,1066.3 L594.2,1066.1 L596.5,1065.9 L598.9,1065.7 L601.2,1065.6 L603.6,1065.4 L605.9,1065.2 L608.3,1065.1 L610.6,1064.9 L613.0,1064.8 L615.3,1064.7 L617.6,1064.5 L620.0,1064.4 L622.3,1064.2 L624.7,1064.1 L627.0,1064.0 L629.4,1063.9 L631.7,1063.7 L634.1,1063.6 L636.4,1063.5 L638.8,1063.4 L641.1,1063.3 L643.4,1063.2 L645.8,1063.1 L648.1,1063.0 L650.5,1062.9 L652.8,1062.8 L655.2,1062.7 L657.5,1062.6 L659.9,1062.5 L662.2,1062.4 L664.6,1062.3 L666.9,1062.2 L669.3,1062.1 L671.6,1062.1 L673.9,1062.0 L676.3,1061.9 L678.6,1061.8 L681.0,1061.8 L683.3,1061.7 L685.7,1061.6 L688.0,1061.6 L690.4,1061.5 L692.7,1061.5 L695.1,1061.4 L697.4,1061.4 L699.8,1061.3 L702.1,1061.2 L704.4,1061.2 L706.8,1061.1 L709.1,1061.1 L711.5,1061.1 L713.8,1061.0 L716.2,1061.0 L718.5,1060.9 L720.9,1060.9 L723.2,1060.8 L725.6,1060.8 L727.9,1060.8 L730.3,1060.7 L732.6,1060.7 L734.9,1060.7 L737.3,1060.6 L739.6,1060.6 L742.0,1060.6 L744.3,1060.5 L746.7,1060.5 L749.0,1060.5 L751.4,1060.4 L753.7,1060.4 L756.1,1060.4 L758.4,1060.4 L760.8,1060.4 L763.1,1060.3 L765.4,1060.3 L767.8,1060.3 L770.1,1060.3 L772.5,1060.2 L774.8,1060.2 L777.2,1060.2 L779.5,1060.2 L781.9,1060.2 L784.2,1060.2 L786.6,1060.1 L788.9,1060.1 L791.2,1060.1 L793.6,1060.1 L795.9,1060.1 L798.3,1060.1 L800.6,1060.1 L803.0,1060.0 L805.3,1060.0 L807.7,1060.0 L810.0,1060.0 L812.4,1060.0 L814.7,1060.0 L817.1,1060.0 L819.4,1060.0" fill="none" stroke="#ff0000" stroke-width="3.4" stroke-dasharray="9.7 8.8"/>
<path d="M115.6,954.6 L117.9,954.6 L120.3,954.6 L122.6,954.5 L125.0,954.5 L127.3,954.4 L129.7,954.3 L132.0,954.2 L134.4,954.1 L136.7,954.0 L139.1,953.9 L141.4,953.8 L143.8,953.7 L146.1,953.5 L148.4,953.4 L150.8,953.3 L153.1,953.1 L155.5,953.0 L157.8,952.8 L160.2,952.7 L162.5,952.5 L164.9,952.4 L167.2,952.2 L169.6,952.1 L171.9,951.9 L174.2,951.8 L176.6,951.6 L178.9,951.5 L181.3,951.3 L183.6,951.2 L186.0,951.0 L188.3,950.9 L190.7,950.7 L193.0,950.6 L195.4,950.5 L197.7,950.3 L200.1,950.2 L202.4,950.1 L204.7,949.9 L207.1,949.8 L209.4,949.7 L211.8,949.6 L214.1,949.5 L216.5,949.4 L218.8,949.4 L221.2,949.3 L223.5,949.3 L225.9,949.2 L228.2,949.2 L230.6,949.2 L232.9,949.3 L235.2,949.3 L237.6,949.4 L239.9,949.4 L242.3,949.5 L244.6,949.6 L247.0,949.8 L249.3,949.9 L251.7,950.1 L254.0,950.3 L256.4,950.5 L258.7,950.7 L261.1,951.0 L263.4,951.3 L265.7,951.6 L268.1,951.9 L270.4,952.2 L272.8,952.4 L275.1,952.7 L277.5,952.9 L279.8,953.1 L282.2,953.3 L284.5,953.5 L286.9,953.6 L289.2,953.8 L291.5,954.0 L293.9,954.1 L296.2,954.3 L298.6,954.4 L300.9,954.6 L303.3,954.8 L305.6,954.9 L308.0,955.1 L310.3,955.3 L312.7,955.4 L315.0,955.6 L317.4,955.8 L319.7,956.1 L322.0,956.4 L324.4,956.7 L326.7,957.1 L329.1,957.5 L331.4,958.0 L333.8,958.6 L336.1,959.2 L338.5,959.9 L340.8,960.7 L343.2,961.5 L345.5,962.5 L347.9,963.4 L350.2,964.5 L352.5,965.6 L354.9,966.8 L357.2,968.1 L359.6,969.5 L361.9,970.9 L364.3,972.4 L366.6,973.9 L369.0,975.5 L371.3,977.2 L373.7,978.9 L376.0,980.7 L378.4,982.5 L380.7,984.3 L383.0,986.1 L385.4,988.0 L387.7,989.9 L390.1,991.8 L392.4,993.7 L394.8,995.5 L397.1,997.4 L399.5,999.2 L401.8,1001.0 L404.2,1002.7 L406.5,1004.4 L408.9,1006.1 L411.2,1007.7 L413.5,1009.3 L415.9,1010.8 L418.2,1012.2 L420.6,1013.6 L422.9,1014.9 L425.3,1016.2 L427.6,1017.4 L430.0,1018.6 L432.3,1019.7 L434.7,1020.8 L437.0,1021.9 L439.3,1023.0 L441.7,1024.0 L444.0,1025.0 L446.4,1026.0 L448.7,1026.9 L451.1,1027.8 L453.4,1028.7 L455.8,1029.6 L458.1,1030.5 L460.5,1031.3 L462.8,1032.1 L465.2,1032.9 L467.5,1033.7 L469.8,1034.4 L472.2,1035.2 L474.5,1035.9 L476.9,1036.6 L479.2,1037.2 L481.6,1037.9 L483.9,1038.5 L486.3,1039.2 L488.6,1039.8 L491.0,1040.4 L493.3,1041.0 L495.7,1041.6 L498.0,1042.1 L500.3,1042.7 L502.7,1043.2 L505.0,1043.7 L507.4,1044.2 L509.7,1044.7 L512.1,1045.2 L514.4,1045.7 L516.8,1046.1 L519.1,1046.6 L521.5,1047.0 L523.8,1047.4 L526.1,1047.8 L528.5,1048.2 L530.8,1048.5 L533.2,1048.9 L535.5,1049.3 L537.9,1049.6 L540.2,1049.9 L542.6,1050.2 L544.9,1050.5 L547.3,1050.8 L549.6,1051.1 L552.0,1051.4 L554.3,1051.7 L556.6,1052.0 L559.0,1052.2 L561.3,1052.5 L563.7,1052.7 L566.0,1052.9 L568.4,1053.2 L570.7,1053.4 L573.1,1053.6 L575.4,1053.8 L577.8,1054.0 L580.1,1054.2 L582.5,1054.4 L584.8,1054.5 L587.1,1054.7 L589.5,1054.9 L591.8,1055.1 L594.2,1055.2 L596.5,1055.4 L598.9,1055.5 L601.2,1055.7 L603.6,1055.8 L605.9,1055.9 L608.3,1056.0 L610.6,1056.2 L613.0,1056.3 L615.3,1056.4 L617.6,1056.5 L620.0,1056.6 L622.3,1056.7 L624.7,1056.8 L627.0,1056.9 L629.4,1057.0 L631.7,1057.1 L634.1,1057.2 L636.4,1057.3 L638.8,1057.4 L641.1,1057.5 L643.4,1057.6 L645.8,1057.6 L648.1,1057.7 L650.5,1057.8 L652.8,1057.9 L655.2,1057.9 L657.5,1058.0 L659.9,1058.1 L662.2,1058.1 L664.6,1058.2 L666.9,1058.2 L669.3,1058.3 L671.6,1058.4 L673.9,1058.4 L676.3,1058.5 L678.6,1058.5 L681.0,1058.6 L683.3,1058.6 L685.7,1058.6 L688.0,1058.7 L690.4,1058.7 L692.7,1058.8 L695.1,1058.8 L697.4,1058.8 L699.8,1058.9 L702.1,1058.9 L704.4,1058.9 L706.8,1059.0 L709.1,1059.0 L711.5,1059.0 L713.8,1059.1 L716.2,1059.1 L718.5,1059.1 L720.9,1059.2 L723.2,1059.2 L725.6,1059.2 L727.9,1059.2 L730.3,1059.2 L732.6,1059.3 L734.9,1059.3 L737.3,1059.3 L739.6,1059.3 L742.0,1059.3 L744.3,1059.4 L746.7,1059.4 L749.0,1059.4 L751.4,1059.4 L753.7,1059.4 L756.1,1059.4 L758.4,1059.4 L760.8,1059.5 L763.1,1059.5 L765.4,1059.5 L767.8,1059.5 L770.1,1059.5 L772.5,1059.5 L774.8,1059.5 L777.2,1059.5 L779.5,1059.5 L781.9,1059.6 L784.2,1059.6 L786.6,1059.6 L788.9,1059.6 L791.2,1059.6 L793.6,1059.6 L795.9,1059.6 L798.3,1059.6 L800.6,1059.6 L803.0,1059.6 L805.3,1059.6 L807.7,1059.6 L810.0,1059.6 L812.4,1059.6 L814.7,1059.6 L817.1,1059.6 L819.4,1059.6" fill="none" stroke="#4a4aff" stroke-width="4.2" stroke-dasharray="1.5 5.5"/>
<path d="M115.6,808.8 L117.9,808.9 L120.3,809.0 L122.6,809.2 L125.0,809.3 L127.3,809.5 L129.7,809.8 L132.0,810.0 L134.4,810.3 L136.7,810.6 L139.1,811.0 L141.4,811.4 L143.8,811.8 L146.1,812.2 L148.4,812.7 L150.8,813.2 L153.1,813.7 L155.5,814.3 L157.8,814.9 L160.2,815.5 L162.5,816.2 L164.9,816.9 L167.2,817.6 L169.6,818.3 L171.9,819.1 L174.2,819.9 L176.6,820.8 L178.9,821.6 L181.3,822.5 L183.6,823.5 L186.0,824.4 L188.3,825.4 L190.7,826.4 L193.0,827.5 L195.4,828.6 L197.7,829.7 L200.1,830.8 L202.4,832.0 L204.7,833.2 L207.1,834.4 L209.4,835.7 L211.8,837.0 L214.1,838.3 L216.5,839.7 L218.8,841.1 L221.2,842.5 L223.5,843.9 L225.9,845.4 L228.2,846.9 L230.6,848.4 L232.9,850.0 L235.2,851.6 L237.6,853.2 L239.9,854.9 L242.3,856.6 L244.6,858.3 L247.0,860.1 L249.3,861.8 L251.7,863.7 L254.0,865.5 L256.4,867.4 L258.7,869.3 L261.1,871.2 L263.4,873.2 L265.7,875.2 L268.1,877.2 L270.4,879.2 L272.8,881.3 L275.1,883.4 L277.5,885.6 L279.8,887.8 L282.2,890.0 L284.5,892.2 L286.9,894.5 L289.2,896.8 L291.5,899.1 L293.9,901.5 L296.2,903.9 L298.6,906.3 L300.9,908.7 L303.3,911.2 L305.6,913.7 L308.0,916.3 L310.3,918.9 L312.7,921.5 L315.0,924.1 L317.4,926.7 L319.7,929.4 L322.0,932.2 L324.4,934.9 L326.7,937.7 L329.1,940.5 L331.4,943.3 L333.8,946.2 L336.1,949.1 L338.5,952.0 L340.8,955.0 L343.2,958.0 L345.5,961.0 L347.9,964.1 L350.2,967.1 L352.5,970.2 L354.9,973.4 L357.2,976.6 L359.6,979.8 L361.9,983.0 L364.3,986.3 L366.6,989.5 L369.0,992.7 L371.3,995.8 L373.7,998.8 L376.0,1001.7 L378.4,1004.5 L380.7,1007.1 L383.0,1009.7 L385.4,1012.2 L387.7,1014.6 L390.1,1016.9 L392.4,1019.1 L394.8,1021.2 L397.1,1023.2 L399.5,1025.1 L401.8,1026.8 L404.2,1028.5 L406.5,1030.1 L408.9,1031.5 L411.2,1032.9 L413.5,1034.2 L415.9,1035.5 L418.2,1036.6 L420.6,1037.7 L422.9,1038.8 L425.3,1039.8 L427.6,1040.7 L430.0,1041.6 L432.3,1042.4 L434.7,1043.2 L437.0,1044.0 L439.3,1044.7 L441.7,1045.3 L444.0,1046.0 L446.4,1046.6 L448.7,1047.2 L451.1,1047.7 L453.4,1048.3 L455.8,1048.8 L458.1,1049.2 L460.5,1049.7 L462.8,1050.1 L465.2,1050.5 L467.5,1050.9 L469.8,1051.3 L472.2,1051.7 L474.5,1052.0 L476.9,1052.3 L479.2,1052.6 L481.6,1052.9 L483.9,1053.2 L486.3,1053.5 L488.6,1053.7 L491.0,1054.0 L493.3,1054.2 L495.7,1054.5 L498.0,1054.7 L500.3,1054.9 L502.7,1055.1 L505.0,1055.3 L507.4,1055.5 L509.7,1055.7 L512.1,1055.9 L514.4,1056.0 L516.8,1056.2 L519.1,1056.4 L521.5,1056.5 L523.8,1056.6 L526.1,1056.8 L528.5,1056.9 L530.8,1057.0 L533.2,1057.1 L535.5,1057.2 L537.9,1057.3 L540.2,1057.4 L542.6,1057.5 L544.9,1057.6 L547.3,1057.7 L549.6,1057.8 L552.0,1057.9 L554.3,1058.0 L556.6,1058.0 L559.0,1058.1 L561.3,1058.2 L563.7,1058.3 L566.0,1058.3 L568.4,1058.4 L570.7,1058.5 L573.1,1058.5 L575.4,1058.6 L577.8,1058.6 L580.1,1058.7 L582.5,1058.7 L584.8,1058.8 L587.1,1058.8 L589.5,1058.9 L591.8,1058.9 L594.2,1059.0 L596.5,1059.0 L598.9,1059.0 L601.2,1059.1 L603.6,1059.1 L605.9,1059.1 L608.3,1059.1 L610.6,1059.2 L613.0,1059.2 L615.3,1059.2 L617.6,1059.2 L620.0,1059.3 L622.3,1059.3 L624.7,1059.3 L627.0,1059.3 L629.4,1059.3 L631.7,1059.3 L634.1,1059.4 L636.4,1059.4 L638.8,1059.4 L641.1,1059.4 L643.4,1059.4 L645.8,1059.4 L648.1,1059.4 L650.5,1059.5 L652.8,1059.5 L655.2,1059.5 L657.5,1059.5 L659.9,1059.5 L662.2,1059.5 L664.6,1059.5 L666.9,1059.5 L669.3,1059.5 L671.6,1059.5 L673.9,1059.5 L676.3,1059.5 L678.6,1059.6 L681.0,1059.6 L683.3,1059.6 L685.7,1059.6 L688.0,1059.6 L690.4,1059.6 L692.7,1059.6 L695.1,1059.6 L697.4,1059.6 L699.8,1059.6 L702.1,1059.6 L704.4,1059.6 L706.8,1059.6 L709.1,1059.6 L711.5,1059.6 L713.8,1059.6 L716.2,1059.6 L718.5,1059.6 L720.9,1059.6 L723.2,1059.6 L725.6,1059.6 L727.9,1059.6 L730.3,1059.6 L732.6,1059.6 L734.9,1059.6 L737.3,1059.6 L739.6,1059.6 L742.0,1059.6 L744.3,1059.6 L746.7,1059.6 L749.0,1059.6 L751.4,1059.6 L753.7,1059.6 L756.1,1059.6 L758.4,1059.6 L760.8,1059.6 L763.1,1059.6 L765.4,1059.6 L767.8,1059.6 L770.1,1059.6 L772.5,1059.6 L774.8,1059.6 L777.2,1059.6 L779.5,1059.6 L781.9,1059.6 L784.2,1059.7 L786.6,1059.7 L788.9,1059.7 L791.2,1059.7 L793.6,1059.7 L795.9,1059.7 L798.3,1059.7 L800.6,1059.7 L803.0,1059.7 L805.3,1059.7 L807.7,1059.7 L810.0,1059.7 L812.4,1059.7 L814.7,1059.7 L817.1,1059.7 L819.4,1059.7" fill="none" stroke="#7e2f8e" stroke-width="5" stroke-dasharray="10 5.6 1.4 5.6"/>
<path d="M115.6,1063.8 L117.9,1063.7 L120.3,1063.5 L122.6,1063.3 L125.0,1063.0 L127.3,1062.8 L129.7,1062.5 L132.0,1062.1 L134.4,1061.8 L136.7,1061.4 L139.1,1061.0 L141.4,1060.5 L143.8,1060.0 L146.1,1059.5 L148.4,1059.0 L150.8,1058.4 L153.1,1057.8 L155.5,1057.2 L157.8,1056.6 L160.2,1055.9 L162.5,1055.2 L164.9,1054.5 L167.2,1053.7 L169.6,1052.9 L171.9,1052.1 L174.2,1051.3 L176.6,1050.4 L178.9,1049.5 L181.3,1048.6 L183.6,1047.6 L186.0,1046.7 L188.3,1045.7 L190.7,1044.6 L193.0,1043.6 L195.4,1042.5 L197.7,1041.3 L200.1,1040.2 L202.4,1039.0 L204.7,1037.8 L207.1,1036.5 L209.4,1035.3 L211.8,1033.9 L214.1,1032.6 L216.5,1031.2 L218.8,1029.8 L221.2,1028.4 L223.5,1027.0 L225.9,1025.5 L228.2,1023.9 L230.6,1022.4 L232.9,1020.8 L235.2,1019.2 L237.6,1017.6 L239.9,1015.9 L242.3,1014.2 L244.6,1012.5 L247.0,1010.7 L249.3,1009.0 L251.7,1007.1 L254.0,1005.3 L256.4,1003.4 L258.7,1001.5 L261.1,999.6 L263.4,997.7 L265.7,995.7 L268.1,993.7 L270.4,991.8 L272.8,990.0 L275.1,988.2 L277.5,986.4 L279.8,984.7 L282.2,983.0 L284.5,981.4 L286.9,979.8 L289.2,978.3 L291.5,976.8 L293.9,975.3 L296.2,973.9 L298.6,972.5 L300.9,971.2 L303.3,969.9 L305.6,968.6 L308.0,967.4 L310.3,966.2 L312.7,965.0 L315.0,963.9 L317.4,962.9 L319.7,961.9 L322.0,961.0 L324.4,960.1 L326.7,959.3 L329.1,958.5 L331.4,957.9 L333.8,957.3 L336.1,956.7 L338.5,956.3 L340.8,956.0 L343.2,955.7 L345.5,955.6 L347.9,955.5 L350.2,955.6 L352.5,955.7 L354.9,956.0 L357.2,956.4 L359.6,956.9 L361.9,957.6 L364.3,958.4 L366.6,959.3 L369.0,960.3 L371.3,961.5 L373.7,962.7 L376.0,964.0 L378.4,965.5 L380.7,967.0 L383.0,968.5 L385.4,970.1 L387.7,971.8 L390.1,973.5 L392.4,975.2 L394.8,977.0 L397.1,978.8 L399.5,980.6 L401.8,982.4 L404.2,984.2 L406.5,986.0 L408.9,987.8 L411.2,989.6 L413.5,991.3 L415.9,993.1 L418.2,994.8 L420.6,996.5 L422.9,998.2 L425.3,999.8 L427.6,1001.4 L430.0,1003.0 L432.3,1004.5 L434.7,1006.0 L437.0,1007.5 L439.3,1009.0 L441.7,1010.4 L444.0,1011.8 L446.4,1013.2 L448.7,1014.5 L451.1,1015.8 L453.4,1017.1 L455.8,1018.3 L458.1,1019.5 L460.5,1020.6 L462.8,1021.7 L465.2,1022.8 L467.5,1023.9 L469.8,1024.9 L472.2,1025.9 L474.5,1026.9 L476.9,1027.8 L479.2,1028.8 L481.6,1029.7 L483.9,1030.5 L486.3,1031.4 L488.6,1032.2 L491.0,1033.0 L493.3,1033.8 L495.7,1034.6 L498.0,1035.4 L500.3,1036.1 L502.7,1036.8 L505.0,1037.5 L507.4,1038.2 L509.7,1038.9 L512.1,1039.5 L514.4,1040.1 L516.8,1040.7 L519.1,1041.3 L521.5,1041.9 L523.8,1042.5 L526.1,1043.0 L528.5,1043.5 L530.8,1044.0 L533.2,1044.5 L535.5,1045.0 L537.9,1045.5 L540.2,1045.9 L542.6,1046.4 L544.9,1046.8 L547.3,1047.3 L549.6,1047.7 L552.0,1048.1 L554.3,1048.5 L556.6,1048.9 L559.0,1049.3 L561.3,1049.7 L563.7,1050.0 L566.0,1050.4 L568.4,1050.7 L570.7,1051.0 L573.1,1051.4 L575.4,1051.7 L577.8,1052.0 L580.1,1052.3 L582.5,1052.5 L584.8,1052.8 L587.1,1053.1 L589.5,1053.3 L591.8,1053.5 L594.2,1053.8 L596.5,1054.0 L598.9,1054.2 L601.2,1054.4 L603.6,1054.6 L605.9,1054.8 L608.3,1055.0 L610.6,1055.2 L613.0,1055.3 L615.3,1055.5 L617.6,1055.6 L620.0,1055.8 L622.3,1055.9 L624.7,1056.1 L627.0,1056.2 L629.4,1056.3 L631.7,1056.5 L634.1,1056.6 L636.4,1056.7 L638.8,1056.8 L641.1,1056.9 L643.4,1057.0 L645.8,1057.1 L648.1,1057.2 L650.5,1057.3 L652.8,1057.4 L655.2,1057.5 L657.5,1057.6 L659.9,1057.7 L662.2,1057.7 L664.6,1057.8 L666.9,1057.9 L669.3,1057.9 L671.6,1058.0 L673.9,1058.1 L676.3,1058.1 L678.6,1058.2 L681.0,1058.2 L683.3,1058.3 L685.7,1058.4 L688.0,1058.4 L690.4,1058.5 L692.7,1058.5 L695.1,1058.5 L697.4,1058.6 L699.8,1058.6 L702.1,1058.7 L704.4,1058.7 L706.8,1058.7 L709.1,1058.8 L711.5,1058.8 L713.8,1058.9 L716.2,1058.9 L718.5,1058.9 L720.9,1058.9 L723.2,1059.0 L725.6,1059.0 L727.9,1059.0 L730.3,1059.1 L732.6,1059.1 L734.9,1059.1 L737.3,1059.1 L739.6,1059.1 L742.0,1059.2 L744.3,1059.2 L746.7,1059.2 L749.0,1059.2 L751.4,1059.2 L753.7,1059.3 L756.1,1059.3 L758.4,1059.3 L760.8,1059.3 L763.1,1059.3 L765.4,1059.3 L767.8,1059.4 L770.1,1059.4 L772.5,1059.4 L774.8,1059.4 L777.2,1059.4 L779.5,1059.4 L781.9,1059.4 L784.2,1059.5 L786.6,1059.5 L788.9,1059.5 L791.2,1059.5 L793.6,1059.5 L795.9,1059.5 L798.3,1059.5 L800.6,1059.5 L803.0,1059.6 L805.3,1059.6 L807.7,1059.6 L810.0,1059.6 L812.4,1059.6 L814.7,1059.6 L817.1,1059.6 L819.4,1059.6" fill="none" stroke="#ff00ff" stroke-width="3.4" stroke-dasharray="10 5.6 1.4 5.6"/>
</g>
<path d="M115.6,1279.5 v-7 M115.6,729.9 v7 M232.9,1279.5 v-7 M232.9,729.9 v7 M350.2,1279.5 v-7 M350.2,729.9 v7 M467.5,1279.5 v-7 M467.5,729.9 v7 M584.8,1279.5 v-7 M584.8,729.9 v7 M702.1,1279.5 v-7 M702.1,729.9 v7 M819.4,1279.5 v-7 M819.4,729.9 v7 M115.6,1279.5 h7 M819.4,1279.5 h-7 M115.6,1169.6 h7 M819.4,1169.6 h-7 M115.6,1059.7 h7 M819.4,1059.7 h-7 M115.6,949.7 h7 M819.4,949.7 h-7 M115.6,839.8 h7 M819.4,839.8 h-7 M115.6,729.9 h7 M819.4,729.9 h-7" stroke="#000" stroke-width="1.2" fill="none"/>
<rect x="115.6" y="729.9" width="703.8" height="549.6" fill="none" stroke="#1a1a1a" stroke-width="1.6"/>
<g font-family="Liberation Sans, sans-serif" font-size="30" fill="#000">
<text x="115.6" y="1313.1" text-anchor="middle">0</text>
<text x="232.9" y="1313.1" text-anchor="middle">0.5</text>
<text x="350.2" y="1313.1" text-anchor="middle">1</text>
<text x="467.5" y="1313.1" text-anchor="middle">1.5</text>
<text x="584.8" y="1313.1" text-anchor="middle">2</text>
<text x="702.1" y="1313.1" text-anchor="middle">2.5</text>
<text x="819.4" y="1313.1" text-anchor="middle">3</text>
<text x="110.8" y="1291.1" text-anchor="end">−1</text>
<text x="110.8" y="1181.2" text-anchor="end">−0.5</text>
<text x="110.8" y="1071.3" text-anchor="end">0</text>
<text x="110.8" y="961.3" text-anchor="end">0.5</text>
<text x="110.8" y="851.4" text-anchor="end">1</text>
<text x="110.8" y="741.5" text-anchor="end">1.5</text>
</g>
<g clip-path="url(#clipD)">
<path d="M1057.6,1003.7 L1058.9,1006.9 L1060.1,1043.4 L1061.4,1068.8 L1062.6,1082.6 L1063.9,1086.7 L1065.1,1087.7 L1066.4,1087.9 L1067.6,1088.0 L1068.9,1088.1 L1070.2,1088.1 L1071.4,1088.1 L1072.7,1088.1 L1073.9,1088.1 L1075.2,1088.0 L1076.4,1088.0 L1077.7,1088.0 L1078.9,1087.9 L1080.2,1087.8 L1081.4,1087.8 L1082.7,1087.7 L1084.0,1087.6 L1085.2,1087.5 L1086.5,1087.4 L1087.7,1087.3 L1089.0,1087.3 L1090.2,1087.2 L1091.5,1087.1 L1092.7,1087.0 L1094.0,1086.9 L1095.3,1086.8 L1096.5,1086.7 L1097.8,1086.6 L1099.0,1086.5 L1100.3,1086.4 L1101.5,1086.3 L1102.8,1086.2 L1104.0,1086.1 L1105.3,1086.0 L1106.6,1085.9 L1107.8,1085.8 L1109.1,1085.7 L1110.3,1085.6 L1111.6,1085.5 L1112.8,1085.4 L1114.1,1085.3 L1115.3,1085.2 L1116.6,1085.1 L1117.9,1085.0 L1119.1,1084.9 L1120.4,1084.9 L1121.6,1084.8 L1122.9,1084.7 L1124.1,1084.6 L1125.4,1084.5 L1126.6,1084.4 L1127.9,1084.3 L1129.1,1084.2 L1130.4,1084.1 L1131.7,1084.0 L1132.9,1083.9 L1134.2,1083.8 L1135.4,1083.7 L1136.7,1083.6 L1137.9,1083.5 L1139.2,1083.3 L1140.4,1083.2 L1141.7,1083.1 L1143.0,1083.0 L1144.2,1082.9 L1145.5,1082.7 L1146.7,1082.6 L1148.0,1082.4 L1149.2,1082.3 L1150.5,1082.2 L1151.7,1082.0 L1153.0,1081.8 L1154.3,1081.7 L1155.5,1081.5 L1156.8,1081.3 L1158.0,1081.1 L1159.3,1080.9 L1160.5,1080.7 L1161.8,1080.5 L1163.0,1080.3 L1164.3,1080.1 L1165.6,1079.9 L1166.8,1079.7 L1168.1,1079.4 L1169.3,1079.2 L1170.6,1078.9 L1171.8,1078.7 L1173.1,1078.4 L1174.3,1078.2 L1175.6,1077.9 L1176.8,1077.7 L1178.1,1077.4 L1179.4,1077.1 L1180.6,1076.8 L1181.9,1076.5 L1183.1,1076.2 L1184.4,1075.9 L1185.6,1075.6 L1186.9,1075.2 L1188.1,1074.9 L1189.4,1074.5 L1190.7,1074.2 L1191.9,1073.8 L1193.2,1073.4 L1194.4,1073.0 L1195.7,1072.5 L1196.9,1072.1 L1198.2,1071.6 L1199.4,1071.0 L1200.7,1070.5 L1202.0,1069.9 L1203.2,1069.4 L1204.5,1068.8 L1205.7,1068.2 L1207.0,1067.6 L1211.6,1068.4 L1216.3,1068.9 L1221.0,1069.2 L1225.6,1069.2 L1230.3,1069.1 L1235.0,1068.9 L1239.6,1068.6 L1244.3,1068.3 L1249.0,1067.7 L1253.6,1066.8 L1258.3,1065.5 L1263.0,1064.1 L1267.6,1062.5 L1272.3,1060.4 L1277.0,1057.8 L1281.6,1054.8 L1286.3,1051.2 L1291.0,1046.7 L1295.6,1040.6 L1300.3,1033.0 L1305.0,1024.9 L1309.6,1015.9 L1314.3,1006.2 L1319.0,995.6 L1323.6,985.5 L1328.3,976.0 L1333.0,966.9 L1337.6,958.0 L1342.3,950.6 L1346.9,944.9 L1351.6,940.1 L1356.3,935.7 L1360.9,931.7 L1365.6,928.3 L1370.3,925.3 L1374.9,922.7 L1379.6,920.5 L1384.3,918.8 L1388.9,917.3 L1393.6,916.2 L1398.3,915.2 L1402.9,914.4 L1407.6,913.6 L1412.3,913.0 L1416.9,912.5 L1421.6,912.1 L1426.3,911.7 L1430.9,911.4 L1435.6,911.2 L1440.3,910.9 L1444.9,910.7 L1449.6,910.6 L1454.3,910.4 L1458.9,910.3 L1463.6,910.2 L1468.3,910.1 L1472.9,910.0 L1477.6,909.9 L1482.3,909.9 L1486.9,909.8 L1491.6,909.8 L1496.3,909.8 L1500.9,909.7 L1505.6,909.7 L1510.2,909.7 L1514.9,909.7 L1519.6,909.7 L1524.2,909.7 L1528.9,909.7 L1533.6,909.7 L1538.2,909.7 L1542.9,909.7 L1547.6,909.7 L1552.2,909.7 L1556.9,909.7 L1561.6,909.7 L1566.2,909.7 L1570.9,909.7 L1575.6,909.7 L1580.2,909.7 L1584.9,909.7 L1589.6,909.7 L1594.2,909.7 L1598.9,909.7 L1603.6,909.7 L1608.2,909.7 L1612.9,909.6 L1617.6,909.6 L1622.2,909.6 L1626.9,909.6 L1631.6,909.6 L1636.2,909.6 L1640.9,909.6 L1645.6,909.6 L1650.2,909.6 L1654.9,909.6 L1659.6,909.6 L1664.2,909.6 L1668.9,909.6 L1673.6,909.6 L1678.2,909.6 L1682.9,909.6 L1687.5,909.6 L1692.2,909.6 L1696.9,909.6 L1701.5,909.6 L1706.2,909.6 L1710.9,909.6 L1715.5,909.6 L1720.2,909.6 L1724.9,909.6 L1729.5,909.6 L1734.2,909.6 L1738.9,909.6 L1743.5,909.6 L1748.2,909.6 L1752.9,909.6 L1757.5,909.6 L1762.2,909.6" fill="none" stroke="#0000ff" stroke-width="3.2" stroke-dasharray="9.7 8.8"/>
<path d="M1057.6,1003.7 L1057.6,1003.7 L1057.7,1003.7 L1057.7,1003.7 L1057.8,1003.8 L1057.8,1003.9 L1057.9,1004.0 L1057.9,1004.1 L1058.0,1004.2 L1058.0,1004.3 L1058.1,1004.5 L1058.1,1004.6 L1058.2,1004.8 L1058.2,1004.9 L1058.2,1005.1 L1058.3,1005.3 L1058.3,1005.5 L1058.4,1005.7 L1058.4,1005.9 L1058.5,1006.1 L1058.5,1006.3 L1058.6,1006.6 L1058.6,1006.9 L1058.7,1007.2 L1058.7,1007.6 L1058.8,1008.1 L1058.8,1008.6 L1058.9,1009.2 L1058.9,1009.9 L1058.9,1010.6 L1059.0,1011.4 L1059.0,1012.2 L1059.1,1013.1 L1059.1,1014.1 L1059.2,1015.1 L1059.2,1016.2 L1059.3,1017.3 L1059.3,1018.5 L1059.4,1019.7 L1059.4,1021.0 L1059.5,1022.4 L1059.5,1023.8 L1059.5,1025.3 L1059.6,1026.8 L1059.6,1028.4 L1059.7,1030.1 L1059.7,1031.8 L1059.8,1033.5 L1059.8,1035.3 L1059.9,1037.2 L1059.9,1039.1 L1060.0,1041.1 L1060.0,1043.1 L1060.1,1045.2 L1060.1,1047.4 L1060.2,1049.6 L1060.2,1051.8 L1060.2,1054.1 L1060.3,1056.5 L1060.3,1058.9 L1060.4,1061.3 L1060.4,1063.8 L1060.5,1066.4 L1060.5,1069.0 L1060.6,1071.7 L1060.6,1074.4 L1060.7,1077.2 L1060.7,1080.0 L1060.8,1082.9 L1060.8,1085.8 L1060.8,1088.8 L1060.9,1091.8 L1060.9,1094.9 L1061.0,1098.0 L1061.0,1101.2 L1061.1,1104.4 L1061.1,1107.7 L1061.2,1111.0 L1061.2,1114.3 L1061.3,1117.8 L1061.3,1121.2 L1061.4,1124.7 L1061.4,1128.3 L1061.4,1131.9 L1061.5,1135.5 L1061.5,1139.2 L1061.6,1143.0 L1061.6,1146.8 L1061.7,1150.6 L1061.7,1154.5 L1061.8,1158.4 L1061.8,1162.4 L1061.9,1166.4 L1061.9,1170.5 L1062.0,1174.6 L1062.0,1178.8 L1062.1,1182.9 L1062.1,1187.2 L1062.1,1191.5 L1062.2,1195.8 L1062.2,1200.2 L1062.3,1204.6 L1062.3,1209.0 L1062.4,1213.5 L1062.4,1218.1 L1062.5,1222.7 L1062.5,1227.3 L1062.6,1232.0 L1062.6,1236.7 L1062.7,1241.4 L1062.7,1246.2 L1062.7,1251.0 L1062.8,1255.9 L1062.8,1260.8 L1062.9,1265.8 L1062.9,1270.7 L1063.0,1275.8 L1063.0,1280.8 L1063.1,1285.9 L1063.1,1291.1 L1064.3,1290.3 L1065.5,1289.6 L1066.7,1288.8 L1067.9,1288.1 L1069.1,1287.3 L1070.3,1286.5 L1071.5,1285.7 L1072.7,1284.9 L1073.9,1284.0 L1075.1,1283.0 L1076.3,1282.1 L1077.5,1281.1 L1078.7,1280.2 L1079.9,1279.3 L1081.1,1278.5 L1082.3,1277.9 L1083.5,1277.4 L1084.7,1276.9 L1085.9,1276.6 L1087.1,1276.2 L1088.3,1275.9 L1089.5,1275.6 L1090.7,1275.3 L1091.9,1275.1 L1093.1,1274.8 L1094.3,1274.6 L1095.5,1274.4 L1096.7,1274.1 L1097.9,1273.9 L1099.1,1273.7 L1100.3,1273.4 L1101.6,1273.2 L1102.8,1272.9 L1104.0,1272.6 L1105.2,1272.3 L1106.4,1271.9 L1107.6,1271.6 L1108.8,1271.3 L1110.0,1270.9 L1111.2,1270.5 L1112.4,1270.2 L1113.6,1269.8 L1114.8,1269.5 L1116.0,1269.1 L1117.2,1268.7 L1118.4,1268.4 L1119.6,1268.0 L1120.8,1267.7 L1122.0,1267.3 L1123.2,1267.0 L1124.4,1266.6 L1125.6,1266.3 L1126.8,1265.9 L1128.0,1265.5 L1129.2,1265.1 L1130.4,1264.7 L1131.6,1264.3 L1132.8,1263.9 L1134.0,1263.4 L1135.2,1262.9 L1136.4,1262.5 L1137.6,1262.0 L1138.8,1261.5 L1140.0,1261.0 L1141.2,1260.5 L1142.4,1260.0 L1143.6,1259.4 L1144.8,1258.9 L1146.0,1258.4 L1147.2,1257.9 L1148.4,1257.4 L1149.6,1256.9 L1150.8,1256.4 L1152.0,1255.9 L1153.2,1255.3 L1154.4,1254.8 L1155.6,1254.3 L1156.8,1253.7 L1158.0,1253.1 L1159.2,1252.5 L1160.4,1251.9 L1161.6,1251.2 L1162.8,1250.6 L1164.0,1249.9 L1165.2,1249.3 L1166.4,1248.6 L1167.6,1247.9 L1168.8,1247.2 L1170.0,1246.4 L1171.2,1245.7 L1172.4,1244.9 L1173.6,1244.2 L1174.8,1243.4 L1176.0,1242.6 L1177.2,1241.8 L1178.4,1241.0 L1179.6,1240.2 L1180.8,1239.3 L1182.0,1238.5 L1183.2,1237.6 L1184.4,1236.6 L1185.6,1235.7 L1186.8,1234.7 L1188.0,1233.7 L1189.2,1232.6 L1190.4,1231.5 L1191.6,1230.4 L1192.8,1229.2 L1194.0,1228.0 L1195.2,1226.7 L1196.4,1225.4 L1197.6,1224.0 L1198.8,1222.6 L1200.0,1221.0 L1201.2,1219.5 L1202.4,1217.8 L1203.6,1216.2 L1204.8,1214.4 L1206.0,1212.7 L1210.7,1212.4 L1215.4,1212.7 L1220.1,1213.6 L1224.7,1213.7 L1229.4,1213.4 L1234.1,1212.9 L1238.8,1211.7 L1243.4,1210.0 L1248.1,1208.0 L1252.8,1205.4 L1257.4,1202.3 L1262.1,1198.4 L1266.8,1193.6 L1271.5,1188.0 L1276.1,1181.4 L1280.8,1173.5 L1285.5,1164.3 L1290.2,1154.6 L1294.8,1143.8 L1299.5,1131.7 L1304.2,1113.7 L1308.9,1088.4 L1313.5,1061.5 L1318.2,1035.5 L1322.9,1013.4 L1327.6,994.7 L1332.2,977.9 L1336.9,964.4 L1341.6,952.7 L1346.2,942.0 L1350.9,932.6 L1355.6,923.7 L1360.3,915.3 L1364.9,908.2 L1369.6,902.0 L1374.3,896.9 L1379.0,892.5 L1383.6,888.9 L1388.3,885.9 L1393.0,883.5 L1397.7,881.6 L1402.3,880.0 L1407.0,878.7 L1411.7,877.7 L1416.3,876.8 L1421.0,876.0 L1425.7,875.3 L1430.4,874.7 L1435.0,874.2 L1439.7,873.8 L1444.4,873.4 L1449.1,873.1 L1453.7,872.8 L1458.4,872.6 L1463.1,872.4 L1467.8,872.2 L1472.4,872.1 L1477.1,871.9 L1481.8,871.8 L1486.5,871.7 L1491.1,871.6 L1495.8,871.6 L1500.5,871.5 L1505.1,871.5 L1509.8,871.4 L1514.5,871.4 L1519.2,871.3 L1523.8,871.3 L1528.5,871.3 L1533.2,871.2 L1537.9,871.2 L1542.5,871.2 L1547.2,871.2 L1551.9,871.2 L1556.6,871.2 L1561.2,871.1 L1565.9,871.1 L1570.6,871.1 L1575.3,871.1 L1579.9,871.1 L1584.6,871.1 L1589.3,871.1 L1593.9,871.1 L1598.6,871.1 L1603.3,871.1 L1608.0,871.1 L1612.6,871.1 L1617.3,871.1 L1622.0,871.1 L1626.7,871.1 L1631.3,871.1 L1636.0,871.1 L1640.7,871.1 L1645.4,871.1 L1650.0,871.1 L1654.7,871.1 L1659.4,871.1 L1664.1,871.0 L1668.7,871.0 L1673.4,871.0 L1678.1,871.0 L1682.7,871.0 L1687.4,871.0 L1692.1,871.0 L1696.8,871.0 L1701.4,871.0 L1706.1,871.0 L1710.8,871.0 L1715.5,871.0 L1720.1,871.0 L1724.8,871.0 L1729.5,871.0 L1734.2,871.0 L1738.8,871.0 L1743.5,871.0 L1748.2,871.0 L1752.9,871.0 L1757.5,871.0 L1762.2,871.0" fill="none" stroke="#007f00" stroke-width="3.4" stroke-linejoin="round"/>
</g>
<path d="M1057.6,1277.4 v-7 M1057.6,729.9 v7 M1175.0,1277.4 v-7 M1175.0,729.9 v7 M1292.5,1277.4 v-7 M1292.5,729.9 v7 M1409.9,1277.4 v-7 M1409.9,729.9 v7 M1527.3,1277.4 v-7 M1527.3,729.9 v7 M1644.8,1277.4 v-7 M1644.8,729.9 v7 M1762.2,1277.4 v-7 M1762.2,729.9 v7 M1057.6,1277.4 h7 M1762.2,1277.4 h-7 M1057.6,1209.0 h7 M1762.2,1209.0 h-7 M1057.6,1140.5 h7 M1762.2,1140.5 h-7 M1057.6,1072.1 h7 M1762.2,1072.1 h-7 M1057.6,1003.7 h7 M1762.2,1003.7 h-7 M1057.6,935.2 h7 M1762.2,935.2 h-7 M1057.6,866.8 h7 M1762.2,866.8 h-7 M1057.6,798.3 h7 M1762.2,798.3 h-7 M1057.6,729.9 h7 M1762.2,729.9 h-7" stroke="#000" stroke-width="1.2" fill="none"/>
<rect x="1057.6" y="729.9" width="704.6" height="547.5" fill="none" stroke="#1a1a1a" stroke-width="1.6"/>
<g font-family="Liberation Sans, sans-serif" font-size="30" fill="#000">
<text x="1057.6" y="1311.0" text-anchor="middle">0</text>
<text x="1175.0" y="1311.0" text-anchor="middle">0.5</text>
<text x="1292.5" y="1311.0" text-anchor="middle">1</text>
<text x="1409.9" y="1311.0" text-anchor="middle">1.5</text>
<text x="1527.3" y="1311.0" text-anchor="middle">2</text>
<text x="1644.8" y="1311.0" text-anchor="middle">2.5</text>
<text x="1762.2" y="1311.0" text-anchor="middle">3</text>
<text x="1052.8" y="1289.0" text-anchor="end">−2</text>
<text x="1052.8" y="1220.6" text-anchor="end">−1.5</text>
<text x="1052.8" y="1152.1" text-anchor="end">−1</text>
<text x="1052.8" y="1083.7" text-anchor="end">−0.5</text>
<text x="1052.8" y="1015.3" text-anchor="end">0</text>
<text x="1052.8" y="946.8" text-anchor="end">0.5</text>
<text x="1052.8" y="878.4" text-anchor="end">1</text>
<text x="1052.8" y="809.9" text-anchor="end">1.5</text>
<text x="1052.8" y="741.5" text-anchor="end">2</text>
</g>
<g font-family="Liberation Sans, sans-serif" font-weight="bold" font-size="29.5" fill="#000">
<text x="24.6" y="32.6">A</text><text x="885.8" y="32.4">B</text><text x="24.6" y="706.4">C</text><text x="885.8" y="706.2">D</text>
</g>
<g font-family="Liberation Sans, sans-serif" fill="#000"><text x="1058.5" y="722" font-size="30">x</text><text x="1083" y="722" font-size="30">10</text><text x="1116.6" y="704.6" font-size="20">−4</text></g>
<g font-family="Liberation Serif, serif" font-size="36.5" fill="#000" letter-spacing="0.3">
<text x="141.5" y="115.6">(rad)</text>
<text x="1064.5" y="138.8">(rad/s)</text>
<text x="168.5" y="781.5">(rad)</text>
<text x="1122.5" y="782" font-size="35" letter-spacing="0">(m)</text>
<text x="627.5" y="551.8" font-style="italic">t</text><text x="653.4" y="551.8" font-size="34" letter-spacing="0">(s)</text>
<text x="1573.5" y="529" font-style="italic">t</text><text x="1599.4" y="529" font-size="34" letter-spacing="0">(s)</text>
<text x="646" y="1233.4" font-style="italic">t</text><text x="671.9" y="1233.4" font-size="34" letter-spacing="0">(s)</text>
<text x="1587" y="1221.6" font-style="italic">t</text><text x="1612.9" y="1221.6" font-size="34" letter-spacing="0">(s)</text>
</g>
<rect x="303" y="68" width="505.5" height="46.5" fill="#fff" stroke="#000" stroke-width="1.5"/>
<rect x="303" y="123.5" width="505.5" height="45.8" fill="#fff" stroke="#000" stroke-width="1.5"/>
<path d="M312.2,90.8 H359" fill="none" stroke="#0000ff" stroke-width="3.4" stroke-dasharray="9.7 8.8"/>
<text font-family="Liberation Serif, serif" font-size="35" x="372.8" y="99.5">Θ</text>
<text font-family="Liberation Serif, serif" font-size="24.5" x="400.3" y="104.9">1</text>
<path d="M436.8,90.8 H484" fill="none" stroke="#007f00" stroke-width="5" stroke-dasharray="9.7 8.8"/>
<text font-family="Liberation Serif, serif" font-size="35" x="499.4" y="99.5">Θ</text>
<text font-family="Liberation Serif, serif" font-size="24.5" x="526.9" y="104.9">2</text>
<path d="M561.5,90.8 H606" fill="none" stroke="#ff3b3b" stroke-width="3" stroke-dasharray="1.5 5.5"/>
<text font-family="Liberation Serif, serif" font-size="35" x="624.4" y="99.5">Θ</text>
<text font-family="Liberation Serif, serif" font-size="24.5" x="651.9" y="104.9">3</text>
<path d="M686.5,90.8 H731" fill="none" stroke="#3ad6c8" stroke-width="4.6" stroke-dasharray="1.5 5.5"/>
<text font-family="Liberation Serif, serif" font-size="35" x="750.4" y="99.5">Θ</text>
<text font-family="Liberation Serif, serif" font-size="24.5" x="777.9" y="104.9">4</text>
<path d="M312.2,146 H359" fill="none" stroke="#bf00bf" stroke-width="3.6"/>
<text font-family="Liberation Serif, serif" font-size="35" x="373.8" y="154.9">Θ</text>
<text font-family="Liberation Serif, serif" font-size="24.5" x="401.3" y="160.3">5</text>
<path d="M436.3,146 H483" fill="none" stroke="#a2142f" stroke-width="5" stroke-dasharray="1.4 5.6 10 5.6"/>
<text font-family="Liberation Serif, serif" font-size="35" x="499.4" y="154.9">Θ</text>
<text font-family="Liberation Serif, serif" font-size="24.5" x="526.9" y="160.3">6</text>
<circle cx="585" cy="146" r="1.6" fill="#000"/>
<text font-family="Liberation Serif, serif" font-weight="bold" font-size="35" x="628.7" y="156.4">l</text>
<text font-family="Liberation Serif, serif" font-size="36" x="637.9" y="148.1">+</text>
<text font-family="Liberation Serif, serif" font-size="24.5" x="638.9" y="165.6">0</text>
<circle cx="709.4" cy="146" r="1.6" fill="#000"/>
<text font-family="Liberation Serif, serif" font-weight="bold" font-size="35" x="755.3" y="156.4">l</text>
<text font-family="Liberation Serif, serif" font-size="36" x="764.5" y="148.1">−</text>
<text font-family="Liberation Serif, serif" font-size="24.5" x="765.5" y="165.6">0</text>
<rect x="1195.6" y="83.5" width="556.9" height="59.0" fill="#fff" stroke="#000" stroke-width="1.5"/>
<rect x="1195.6" y="153" width="556.9" height="58.4" fill="#fff" stroke="#000" stroke-width="1.5"/>
<path d="M1205.4,112.3 H1252.2" fill="none" stroke="#0000ff" stroke-width="3.4" stroke-dasharray="9.7 8.8"/>
<text font-family="Liberation Serif, serif" font-size="35" x="1272.8" y="125.4">Θ</text>
<text font-family="Liberation Serif, serif" font-size="24.5" x="1300.3" y="130.8">1</text>
<text font-family="Liberation Serif, serif" font-size="30" x="1285.6" y="97.8" text-anchor="middle">.</text>
<path d="M1342.5,112.3 H1389.7" fill="none" stroke="#007f00" stroke-width="5" stroke-dasharray="9.7 8.8"/>
<text font-family="Liberation Serif, serif" font-size="35" x="1412.1" y="125.4">Θ</text>
<text font-family="Liberation Serif, serif" font-size="24.5" x="1439.6" y="130.8">2</text>
<text font-family="Liberation Serif, serif" font-size="30" x="1424.9" y="97.8" text-anchor="middle">.</text>
<path d="M1480,112.3 H1524.5" fill="none" stroke="#ff3b3b" stroke-width="3" stroke-dasharray="1.5 5.5"/>
<text font-family="Liberation Serif, serif" font-size="35" x="1549.8" y="125.4">Θ</text>
<text font-family="Liberation Serif, serif" font-size="24.5" x="1577.3" y="130.8">3</text>
<text font-family="Liberation Serif, serif" font-size="30" x="1562.6" y="97.8" text-anchor="middle">.</text>
<path d="M1617.4,112.3 H1662" fill="none" stroke="#3ad6c8" stroke-width="4.6" stroke-dasharray="1.5 5.5"/>
<text font-family="Liberation Serif, serif" font-size="35" x="1687.7" y="125.4">Θ</text>
<text font-family="Liberation Serif, serif" font-size="24.5" x="1715.2" y="130.8">4</text>
<text font-family="Liberation Serif, serif" font-size="30" x="1700.5" y="97.8" text-anchor="middle">.</text>
<path d="M1205.4,181.7 H1252.2" fill="none" stroke="#bf00bf" stroke-width="3.6"/>
<text font-family="Liberation Serif, serif" font-size="35" x="1274.3" y="194.8">Θ</text>
<text font-family="Liberation Serif, serif" font-size="24.5" x="1301.8" y="200.2">5</text>
<text font-family="Liberation Serif, serif" font-size="30" x="1287.1" y="167.2" text-anchor="middle">.</text>
<path d="M1342.5,181.7 H1389.7" fill="none" stroke="#a2142f" stroke-width="5" stroke-dasharray="1.4 5.6 10 5.6"/>
<text font-family="Liberation Serif, serif" font-size="35" x="1412.1" y="194.8">Θ</text>
<text font-family="Liberation Serif, serif" font-size="24.5" x="1439.6" y="200.2">6</text>
<text font-family="Liberation Serif, serif" font-size="30" x="1424.9" y="167.2" text-anchor="middle">.</text>
<circle cx="1503.7" cy="181.7" r="1.6" fill="#000"/>
<text font-family="Liberation Serif, serif" font-weight="bold" font-size="35" x="1552.8" y="192.7">l</text>
<text font-family="Liberation Serif, serif" font-size="36" x="1562.0" y="184.4">+</text>
<text font-family="Liberation Serif, serif" font-size="24.5" x="1563.0" y="201.9">1</text>
<circle cx="1641.1" cy="181.7" r="1.6" fill="#000"/>
<text font-family="Liberation Serif, serif" font-weight="bold" font-size="35" x="1691.7" y="192.7">l</text>
<text font-family="Liberation Serif, serif" font-size="36" x="1700.9" y="184.4">−</text>
<text font-family="Liberation Serif, serif" font-size="24.5" x="1701.9" y="201.9">1</text>
<rect x="639.1" y="752.7" width="145.9" height="246.6" fill="#fff" stroke="#000" stroke-width="1.5"/>
<path d="M650,775.9 H703.8" fill="none" stroke="#000" stroke-width="3.2"/>
<text font-family="Liberation Serif, serif" font-style="italic" font-size="34" x="710.5" y="779.2">e</text>
<text font-family="Liberation Serif, serif" font-size="26" x="726.1" y="783.7">Θ</text>
<text font-family="Liberation Serif, serif" font-size="17.5" x="748.3" y="787.8">1</text>
<path d="M650,815.8 H697" fill="none" stroke="#007f00" stroke-width="5" stroke-dasharray="9.7 8.8"/>
<text font-family="Liberation Serif, serif" font-style="italic" font-size="34" x="712.7" y="819.1">e</text>
<text font-family="Liberation Serif, serif" font-size="26" x="728.3" y="823.6">Θ</text>
<text font-family="Liberation Serif, serif" font-size="17.5" x="750.5" y="827.7">2</text>
<path d="M650,855.7 H697" fill="none" stroke="#ff0000" stroke-width="3.4" stroke-dasharray="9.7 8.8"/>
<text font-family="Liberation Serif, serif" font-style="italic" font-size="34" x="712.7" y="859.0">e</text>
<text font-family="Liberation Serif, serif" font-size="26" x="728.3" y="863.5">Θ</text>
<text font-family="Liberation Serif, serif" font-size="17.5" x="750.5" y="867.6">3</text>
<path d="M650,895.6 H703.8" fill="none" stroke="#4a4aff" stroke-width="4.2" stroke-dasharray="1.5 5.5"/>
<text font-family="Liberation Serif, serif" font-style="italic" font-size="34" x="712.7" y="898.9">e</text>
<text font-family="Liberation Serif, serif" font-size="26" x="728.3" y="903.4">Θ</text>
<text font-family="Liberation Serif, serif" font-size="17.5" x="750.5" y="907.5">4</text>
<path d="M650,935.5 H703.8" fill="none" stroke="#7e2f8e" stroke-width="5" stroke-dasharray="1.4 5.6 10 5.6"/>
<text font-family="Liberation Serif, serif" font-style="italic" font-size="34" x="712.7" y="938.8">e</text>
<text font-family="Liberation Serif, serif" font-size="26" x="728.3" y="943.3">Θ</text>
<text font-family="Liberation Serif, serif" font-size="17.5" x="750.5" y="947.4">5</text>
<path d="M650,975.4 H703.8" fill="none" stroke="#ff00ff" stroke-width="3.4" stroke-dasharray="1.4 5.6 10 5.6"/>
<text font-family="Liberation Serif, serif" font-style="italic" font-size="34" x="712.7" y="978.7">e</text>
<text font-family="Liberation Serif, serif" font-size="26" x="728.3" y="983.2">Θ</text>
<text font-family="Liberation Serif, serif" font-size="17.5" x="750.5" y="987.3">6</text>
<rect x="1589.5" y="750" width="138.0" height="85.7" fill="#fff" stroke="#000" stroke-width="1.5"/>
<path d="M1603.3,773.3 H1669" fill="none" stroke="#0000ff" stroke-width="3.2" stroke-dasharray="9.3 9.3"/>
<path d="M1603.3,812.6 H1673.1" fill="none" stroke="#007f00" stroke-width="3.4"/>
<text font-family="Liberation Serif, serif" font-style="italic" font-size="34" x="1674.3" y="780.5">e</text>
<text font-family="Liberation Serif, serif" font-size="25" x="1689.6" y="785.7">X</text>
<text font-family="Liberation Serif, serif" font-style="italic" font-size="34" x="1674.3" y="821.7">e</text>
<text font-family="Liberation Serif, serif" font-size="25" x="1689" y="827.6">Y</text>
</svg>
</body></html>
